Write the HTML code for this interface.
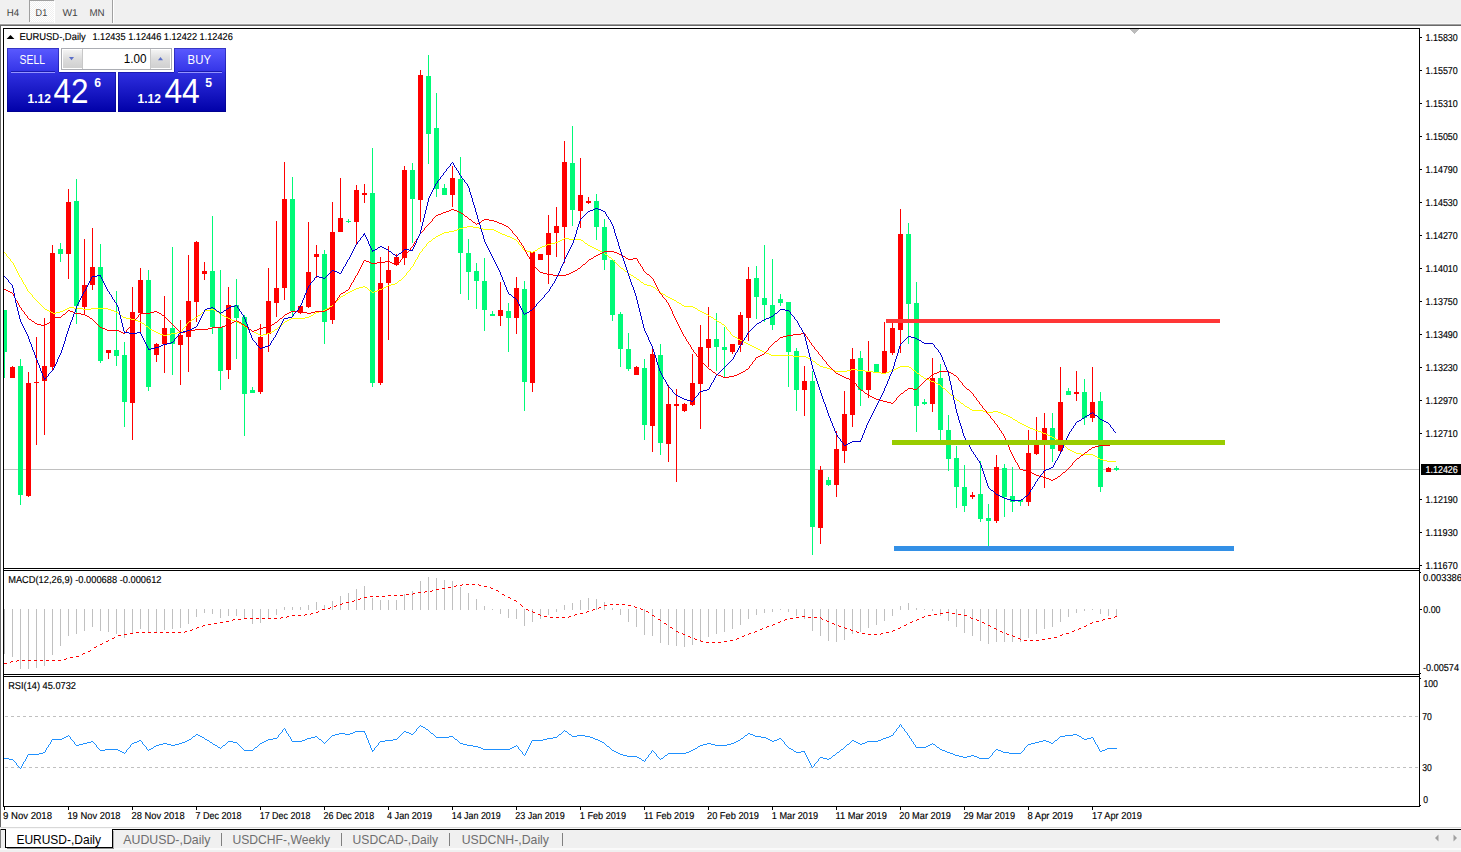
<!DOCTYPE html>
<html><head><meta charset="utf-8"><title>EURUSD-,Daily</title>
<style>
html,body{margin:0;padding:0;background:#fff}
body{width:1461px;height:852px;overflow:hidden;position:relative}
svg{position:absolute;left:0;top:0;display:block}
text{font-family:"Liberation Sans",sans-serif;fill:#000}
.t9{font-size:10px;text-rendering:geometricPrecision;stroke:#000;stroke-width:0.15px}
.ax{font-size:10px;text-rendering:geometricPrecision;stroke:#000;stroke-width:0.15px}
.ce{shape-rendering:crispEdges}
</style></head><body>
<svg width="1461" height="852" viewBox="0 0 1461 852">
<defs><linearGradient id="gb" x1="0" y1="0" x2="0" y2="1"><stop offset="0" stop-color="#5a5aff"/><stop offset="1" stop-color="#3232e6"/></linearGradient><linearGradient id="gp" x1="0" y1="0" x2="0" y2="1"><stop offset="0" stop-color="#3030e0"/><stop offset="1" stop-color="#0000a8"/></linearGradient><linearGradient id="gs" x1="0" y1="0" x2="0" y2="1"><stop offset="0" stop-color="#f4f4f4"/><stop offset="0.5" stop-color="#dcdcdc"/><stop offset="1" stop-color="#d0d0d0"/></linearGradient><pattern id="dots" width="2" height="2" patternUnits="userSpaceOnUse"><rect width="2" height="2" fill="#ffffff"/><rect width="1" height="1" fill="#f0f0f0"/><rect x="1" y="1" width="1" height="1" fill="#f0f0f0"/></pattern></defs>
<g class="ce">
<rect x="0" y="0" width="1461" height="852" fill="#fff"/><rect x="0" y="0" width="1461" height="24" fill="#f0f0f0"/><rect x="30" y="1" width="24" height="21" fill="url(#dots)"/><rect x="29" y="0" width="1" height="22" fill="#a0a0a0"/><rect x="29" y="0" width="25" height="1" fill="#a0a0a0"/><rect x="54" y="1" width="1" height="22" fill="#fff"/><rect x="112" y="0" width="1" height="24" fill="#a0a0a0"/><rect x="113" y="0" width="1" height="24" fill="#fff"/><rect x="0" y="23" width="1461" height="1" fill="#f6f6f6"/><rect x="0" y="24" width="1461" height="1" fill="#a0a0a0"/><rect x="0" y="25" width="1461" height="1" fill="#696969"/><rect x="0" y="25" width="1" height="802" fill="#696969"/><rect x="0" y="827" width="1461" height="1" fill="#d8d8d8"/><rect x="0" y="828" width="1461" height="1" fill="#f8f8f8"/><rect x="0" y="829" width="1461" height="23" fill="#f0f0f0"/><rect x="0" y="829" width="1461" height="1" fill="#000"/><rect x="0" y="848" width="1461" height="2" fill="#fafafa"/><rect x="6" y="829" width="106" height="18" fill="#fff"/><rect x="5" y="829" width="1" height="19" fill="#000"/><rect x="112" y="829" width="1" height="19" fill="#000"/><rect x="5" y="847" width="108" height="1" fill="#000"/><rect x="113" y="831" width="1" height="18" fill="#b0b0b0"/><rect x="7" y="848" width="107" height="1" fill="#909090"/><rect x="0" y="829" width="1" height="19" fill="#808080"/><rect x="221" y="833" width="1" height="13" fill="#808080"/><rect x="341" y="833" width="1" height="13" fill="#808080"/><rect x="449" y="833" width="1" height="13" fill="#808080"/><rect x="562" y="833" width="1" height="13" fill="#808080"/><rect x="3" y="28" width="1417" height="1" fill="#000"/><rect x="3" y="568" width="1417" height="1" fill="#000"/><rect x="3" y="28" width="1" height="541" fill="#000"/><rect x="3" y="570" width="1417" height="1" fill="#000"/><rect x="3" y="674" width="1417" height="1" fill="#000"/><rect x="3" y="570" width="1" height="105" fill="#000"/><rect x="3" y="676" width="1417" height="1" fill="#000"/><rect x="3" y="806" width="1417" height="1" fill="#000"/><rect x="3" y="676" width="1" height="131" fill="#000"/><rect x="1419" y="28" width="1" height="779" fill="#000"/><rect x="1420" y="37" width="2" height="1" fill="#000"/><rect x="1420" y="70" width="2" height="1" fill="#000"/><rect x="1420" y="103" width="2" height="1" fill="#000"/><rect x="1420" y="136" width="2" height="1" fill="#000"/><rect x="1420" y="169" width="2" height="1" fill="#000"/><rect x="1420" y="202" width="2" height="1" fill="#000"/><rect x="1420" y="235" width="2" height="1" fill="#000"/><rect x="1420" y="268" width="2" height="1" fill="#000"/><rect x="1420" y="301" width="2" height="1" fill="#000"/><rect x="1420" y="334" width="2" height="1" fill="#000"/><rect x="1420" y="367" width="2" height="1" fill="#000"/><rect x="1420" y="400" width="2" height="1" fill="#000"/><rect x="1420" y="433" width="2" height="1" fill="#000"/><rect x="1420" y="499" width="2" height="1" fill="#000"/><rect x="1420" y="532" width="2" height="1" fill="#000"/><rect x="1420" y="565" width="2" height="1" fill="#000"/><rect x="1420" y="572" width="1" height="1" fill="#000"/><rect x="1420" y="609" width="2" height="1" fill="#000"/><rect x="1420" y="673" width="1" height="1" fill="#000"/><rect x="1420" y="678" width="1" height="1" fill="#000"/><rect x="1420" y="805" width="1" height="1" fill="#000"/><rect x="4" y="807" width="1" height="3" fill="#000"/><rect x="68" y="807" width="1" height="3" fill="#000"/><rect x="132" y="807" width="1" height="3" fill="#000"/><rect x="196" y="807" width="1" height="3" fill="#000"/><rect x="260" y="807" width="1" height="3" fill="#000"/><rect x="324" y="807" width="1" height="3" fill="#000"/><rect x="388" y="807" width="1" height="3" fill="#000"/><rect x="452" y="807" width="1" height="3" fill="#000"/><rect x="516" y="807" width="1" height="3" fill="#000"/><rect x="580" y="807" width="1" height="3" fill="#000"/><rect x="644" y="807" width="1" height="3" fill="#000"/><rect x="708" y="807" width="1" height="3" fill="#000"/><rect x="772" y="807" width="1" height="3" fill="#000"/><rect x="836" y="807" width="1" height="3" fill="#000"/><rect x="900" y="807" width="1" height="3" fill="#000"/><rect x="964" y="807" width="1" height="3" fill="#000"/><rect x="1028" y="807" width="1" height="3" fill="#000"/><rect x="1092" y="807" width="1" height="3" fill="#000"/><rect x="4" y="469" width="1415" height="1" fill="#c0c0c0"/><polygon points="1130,29 1139.2,29 1134.6,34" fill="#bcbcbc"/><rect x="4" y="609" width="1" height="45" fill="#c0c0c0"/><rect x="12" y="609" width="1" height="48" fill="#c0c0c0"/><rect x="20" y="609" width="1" height="60" fill="#c0c0c0"/><rect x="28" y="609" width="1" height="60" fill="#c0c0c0"/><rect x="36" y="609" width="1" height="59" fill="#c0c0c0"/><rect x="44" y="609" width="1" height="57" fill="#c0c0c0"/><rect x="52" y="609" width="1" height="46" fill="#c0c0c0"/><rect x="60" y="609" width="1" height="37" fill="#c0c0c0"/><rect x="68" y="609" width="1" height="27" fill="#c0c0c0"/><rect x="76" y="609" width="1" height="25" fill="#c0c0c0"/><rect x="84" y="609" width="1" height="22" fill="#c0c0c0"/><rect x="92" y="609" width="1" height="18" fill="#c0c0c0"/><rect x="100" y="609" width="1" height="22" fill="#c0c0c0"/><rect x="108" y="609" width="1" height="23" fill="#c0c0c0"/><rect x="116" y="609" width="1" height="25" fill="#c0c0c0"/><rect x="124" y="609" width="1" height="29" fill="#c0c0c0"/><rect x="132" y="609" width="1" height="24" fill="#c0c0c0"/><rect x="140" y="609" width="1" height="20" fill="#c0c0c0"/><rect x="148" y="609" width="1" height="23" fill="#c0c0c0"/><rect x="156" y="609" width="1" height="23" fill="#c0c0c0"/><rect x="164" y="609" width="1" height="21" fill="#c0c0c0"/><rect x="172" y="609" width="1" height="20" fill="#c0c0c0"/><rect x="180" y="609" width="1" height="19" fill="#c0c0c0"/><rect x="188" y="609" width="1" height="15" fill="#c0c0c0"/><rect x="196" y="609" width="1" height="8" fill="#c0c0c0"/><rect x="204" y="609" width="1" height="4" fill="#c0c0c0"/><rect x="212" y="609" width="1" height="5" fill="#c0c0c0"/><rect x="220" y="609" width="1" height="9" fill="#c0c0c0"/><rect x="228" y="609" width="1" height="7" fill="#c0c0c0"/><rect x="236" y="609" width="1" height="7" fill="#c0c0c0"/><rect x="244" y="609" width="1" height="10" fill="#c0c0c0"/><rect x="252" y="609" width="1" height="15" fill="#c0c0c0"/><rect x="260" y="609" width="1" height="14" fill="#c0c0c0"/><rect x="268" y="609" width="1" height="9" fill="#c0c0c0"/><rect x="276" y="609" width="1" height="6" fill="#c0c0c0"/><rect x="284" y="607" width="1" height="3" fill="#c0c0c0"/><rect x="292" y="607" width="1" height="3" fill="#c0c0c0"/><rect x="300" y="607" width="1" height="3" fill="#c0c0c0"/><rect x="308" y="605" width="1" height="5" fill="#c0c0c0"/><rect x="316" y="602" width="1" height="8" fill="#c0c0c0"/><rect x="324" y="605" width="1" height="5" fill="#c0c0c0"/><rect x="332" y="601" width="1" height="9" fill="#c0c0c0"/><rect x="340" y="596" width="1" height="14" fill="#c0c0c0"/><rect x="348" y="593" width="1" height="17" fill="#c0c0c0"/><rect x="356" y="589" width="1" height="21" fill="#c0c0c0"/><rect x="364" y="586" width="1" height="24" fill="#c0c0c0"/><rect x="372" y="598" width="1" height="12" fill="#c0c0c0"/><rect x="380" y="600" width="1" height="10" fill="#c0c0c0"/><rect x="388" y="600" width="1" height="10" fill="#c0c0c0"/><rect x="396" y="600" width="1" height="10" fill="#c0c0c0"/><rect x="404" y="594" width="1" height="16" fill="#c0c0c0"/><rect x="412" y="591" width="1" height="19" fill="#c0c0c0"/><rect x="420" y="581" width="1" height="29" fill="#c0c0c0"/><rect x="428" y="577" width="1" height="33" fill="#c0c0c0"/><rect x="436" y="578" width="1" height="32" fill="#c0c0c0"/><rect x="444" y="580" width="1" height="30" fill="#c0c0c0"/><rect x="452" y="581" width="1" height="29" fill="#c0c0c0"/><rect x="460" y="587" width="1" height="23" fill="#c0c0c0"/><rect x="468" y="593" width="1" height="17" fill="#c0c0c0"/><rect x="476" y="599" width="1" height="11" fill="#c0c0c0"/><rect x="484" y="606" width="1" height="4" fill="#c0c0c0"/><rect x="492" y="609" width="1" height="1" fill="#c0c0c0"/><rect x="500" y="609" width="1" height="5" fill="#c0c0c0"/><rect x="508" y="609" width="1" height="9" fill="#c0c0c0"/><rect x="516" y="609" width="1" height="10" fill="#c0c0c0"/><rect x="524" y="609" width="1" height="17" fill="#c0c0c0"/><rect x="532" y="609" width="1" height="13" fill="#c0c0c0"/><rect x="540" y="609" width="1" height="10" fill="#c0c0c0"/><rect x="548" y="609" width="1" height="6" fill="#c0c0c0"/><rect x="556" y="609" width="1" height="3" fill="#c0c0c0"/><rect x="564" y="605" width="1" height="5" fill="#c0c0c0"/><rect x="572" y="603" width="1" height="7" fill="#c0c0c0"/><rect x="580" y="600" width="1" height="10" fill="#c0c0c0"/><rect x="588" y="598" width="1" height="12" fill="#c0c0c0"/><rect x="596" y="599" width="1" height="11" fill="#c0c0c0"/><rect x="604" y="602" width="1" height="8" fill="#c0c0c0"/><rect x="612" y="608" width="1" height="2" fill="#c0c0c0"/><rect x="620" y="609" width="1" height="6" fill="#c0c0c0"/><rect x="628" y="609" width="1" height="13" fill="#c0c0c0"/><rect x="636" y="609" width="1" height="18" fill="#c0c0c0"/><rect x="644" y="609" width="1" height="26" fill="#c0c0c0"/><rect x="652" y="609" width="1" height="27" fill="#c0c0c0"/><rect x="660" y="609" width="1" height="34" fill="#c0c0c0"/><rect x="668" y="609" width="1" height="36" fill="#c0c0c0"/><rect x="676" y="609" width="1" height="37" fill="#c0c0c0"/><rect x="684" y="609" width="1" height="38" fill="#c0c0c0"/><rect x="692" y="609" width="1" height="36" fill="#c0c0c0"/><rect x="700" y="609" width="1" height="33" fill="#c0c0c0"/><rect x="708" y="609" width="1" height="28" fill="#c0c0c0"/><rect x="716" y="609" width="1" height="25" fill="#c0c0c0"/><rect x="724" y="609" width="1" height="23" fill="#c0c0c0"/><rect x="732" y="609" width="1" height="20" fill="#c0c0c0"/><rect x="740" y="609" width="1" height="16" fill="#c0c0c0"/><rect x="748" y="609" width="1" height="10" fill="#c0c0c0"/><rect x="756" y="609" width="1" height="6" fill="#c0c0c0"/><rect x="764" y="609" width="1" height="4" fill="#c0c0c0"/><rect x="772" y="609" width="1" height="3" fill="#c0c0c0"/><rect x="780" y="609" width="1" height="1" fill="#c0c0c0"/><rect x="788" y="609" width="1" height="3" fill="#c0c0c0"/><rect x="796" y="609" width="1" height="7" fill="#c0c0c0"/><rect x="804" y="609" width="1" height="10" fill="#c0c0c0"/><rect x="812" y="609" width="1" height="22" fill="#c0c0c0"/><rect x="820" y="609" width="1" height="27" fill="#c0c0c0"/><rect x="828" y="609" width="1" height="32" fill="#c0c0c0"/><rect x="836" y="609" width="1" height="33" fill="#c0c0c0"/><rect x="844" y="609" width="1" height="31" fill="#c0c0c0"/><rect x="852" y="609" width="1" height="25" fill="#c0c0c0"/><rect x="860" y="609" width="1" height="23" fill="#c0c0c0"/><rect x="868" y="609" width="1" height="19" fill="#c0c0c0"/><rect x="876" y="609" width="1" height="16" fill="#c0c0c0"/><rect x="884" y="609" width="1" height="12" fill="#c0c0c0"/><rect x="892" y="609" width="1" height="7" fill="#c0c0c0"/><rect x="900" y="606" width="1" height="4" fill="#c0c0c0"/><rect x="908" y="603" width="1" height="7" fill="#c0c0c0"/><rect x="916" y="608" width="1" height="2" fill="#c0c0c0"/><rect x="924" y="609" width="1" height="1" fill="#c0c0c0"/><rect x="932" y="609" width="1" height="2" fill="#c0c0c0"/><rect x="940" y="609" width="1" height="7" fill="#c0c0c0"/><rect x="948" y="609" width="1" height="12" fill="#c0c0c0"/><rect x="956" y="609" width="1" height="18" fill="#c0c0c0"/><rect x="964" y="609" width="1" height="24" fill="#c0c0c0"/><rect x="972" y="609" width="1" height="27" fill="#c0c0c0"/><rect x="980" y="609" width="1" height="32" fill="#c0c0c0"/><rect x="988" y="609" width="1" height="35" fill="#c0c0c0"/><rect x="996" y="609" width="1" height="33" fill="#c0c0c0"/><rect x="1004" y="609" width="1" height="33" fill="#c0c0c0"/><rect x="1012" y="609" width="1" height="33" fill="#c0c0c0"/><rect x="1020" y="609" width="1" height="33" fill="#c0c0c0"/><rect x="1028" y="609" width="1" height="29" fill="#c0c0c0"/><rect x="1036" y="609" width="1" height="25" fill="#c0c0c0"/><rect x="1044" y="609" width="1" height="20" fill="#c0c0c0"/><rect x="1052" y="609" width="1" height="18" fill="#c0c0c0"/><rect x="1060" y="609" width="1" height="13" fill="#c0c0c0"/><rect x="1068" y="609" width="1" height="8" fill="#c0c0c0"/><rect x="1076" y="609" width="1" height="4" fill="#c0c0c0"/><rect x="1084" y="609" width="1" height="2" fill="#c0c0c0"/><rect x="1092" y="609" width="1" height="1" fill="#c0c0c0"/><rect x="1100" y="609" width="1" height="5" fill="#c0c0c0"/><rect x="1108" y="609" width="1" height="7" fill="#c0c0c0"/><rect x="1116" y="609" width="1" height="8" fill="#c0c0c0"/><line x1="5" y1="716.5" x2="1419" y2="716.5" stroke="#c0c0c0" stroke-width="1" stroke-dasharray="3,3"/><line x1="5" y1="767.5" x2="1419" y2="767.5" stroke="#c0c0c0" stroke-width="1" stroke-dasharray="3,3"/><rect x="4" y="310" width="1" height="68" fill="#00fa78"/><rect x="4" y="310" width="3" height="42" fill="#00fa78"/><rect x="12" y="366" width="1" height="12" fill="#ff0000"/><rect x="10" y="367" width="5" height="11" fill="#ff0000"/><rect x="20" y="359" width="1" height="146" fill="#00fa78"/><rect x="18" y="366" width="5" height="129" fill="#00fa78"/><rect x="28" y="372" width="1" height="125" fill="#ff0000"/><rect x="26" y="383" width="5" height="113" fill="#ff0000"/><rect x="36" y="337" width="1" height="108" fill="#ff0000"/><rect x="34" y="382" width="5" height="1" fill="#ff0000"/><rect x="44" y="318" width="1" height="117" fill="#ff0000"/><rect x="42" y="366" width="5" height="15" fill="#ff0000"/><rect x="52" y="245" width="1" height="126" fill="#ff0000"/><rect x="50" y="253" width="5" height="114" fill="#ff0000"/><rect x="60" y="243" width="1" height="19" fill="#00fa78"/><rect x="58" y="249" width="5" height="5" fill="#00fa78"/><rect x="68" y="189" width="1" height="90" fill="#ff0000"/><rect x="66" y="202" width="5" height="52" fill="#ff0000"/><rect x="76" y="179" width="1" height="145" fill="#00fa78"/><rect x="74" y="201" width="5" height="105" fill="#00fa78"/><rect x="84" y="239" width="1" height="75" fill="#ff0000"/><rect x="82" y="285" width="5" height="22" fill="#ff0000"/><rect x="92" y="228" width="1" height="62" fill="#ff0000"/><rect x="90" y="267" width="5" height="18" fill="#ff0000"/><rect x="100" y="244" width="1" height="119" fill="#00fa78"/><rect x="98" y="267" width="5" height="94" fill="#00fa78"/><rect x="108" y="350" width="1" height="9" fill="#ff0000"/><rect x="106" y="350" width="5" height="3" fill="#ff0000"/><rect x="116" y="291" width="1" height="75" fill="#00fa78"/><rect x="114" y="350" width="5" height="6" fill="#00fa78"/><rect x="124" y="342" width="1" height="85" fill="#00fa78"/><rect x="122" y="355" width="5" height="47" fill="#00fa78"/><rect x="132" y="287" width="1" height="153" fill="#ff0000"/><rect x="130" y="312" width="5" height="91" fill="#ff0000"/><rect x="140" y="268" width="1" height="66" fill="#ff0000"/><rect x="138" y="280" width="5" height="33" fill="#ff0000"/><rect x="148" y="270" width="1" height="121" fill="#00fa78"/><rect x="146" y="280" width="5" height="107" fill="#00fa78"/><rect x="156" y="343" width="1" height="19" fill="#ff0000"/><rect x="154" y="344" width="5" height="11" fill="#ff0000"/><rect x="164" y="296" width="1" height="77" fill="#ff0000"/><rect x="162" y="328" width="5" height="16" fill="#ff0000"/><rect x="172" y="247" width="1" height="128" fill="#00fa78"/><rect x="170" y="328" width="5" height="16" fill="#00fa78"/><rect x="180" y="320" width="1" height="65" fill="#ff0000"/><rect x="178" y="335" width="5" height="10" fill="#ff0000"/><rect x="188" y="255" width="1" height="117" fill="#ff0000"/><rect x="186" y="301" width="5" height="36" fill="#ff0000"/><rect x="196" y="241" width="1" height="81" fill="#ff0000"/><rect x="194" y="242" width="5" height="60" fill="#ff0000"/><rect x="204" y="262" width="1" height="18" fill="#ff0000"/><rect x="202" y="271" width="5" height="3" fill="#ff0000"/><rect x="212" y="216" width="1" height="118" fill="#00fa78"/><rect x="210" y="271" width="5" height="56" fill="#00fa78"/><rect x="220" y="270" width="1" height="120" fill="#00fa78"/><rect x="218" y="327" width="5" height="44" fill="#00fa78"/><rect x="228" y="287" width="1" height="92" fill="#ff0000"/><rect x="226" y="305" width="5" height="65" fill="#ff0000"/><rect x="236" y="279" width="1" height="80" fill="#00fa78"/><rect x="234" y="305" width="5" height="13" fill="#00fa78"/><rect x="244" y="315" width="1" height="121" fill="#00fa78"/><rect x="242" y="317" width="5" height="77" fill="#00fa78"/><rect x="252" y="387" width="1" height="6" fill="#00fa78"/><rect x="250" y="390" width="5" height="3" fill="#00fa78"/><rect x="260" y="324" width="1" height="70" fill="#ff0000"/><rect x="258" y="337" width="5" height="55" fill="#ff0000"/><rect x="268" y="268" width="1" height="84" fill="#ff0000"/><rect x="266" y="301" width="5" height="33" fill="#ff0000"/><rect x="276" y="221" width="1" height="96" fill="#ff0000"/><rect x="274" y="288" width="5" height="15" fill="#ff0000"/><rect x="284" y="162" width="1" height="138" fill="#ff0000"/><rect x="282" y="199" width="5" height="89" fill="#ff0000"/><rect x="292" y="177" width="1" height="139" fill="#00fa78"/><rect x="290" y="199" width="5" height="112" fill="#00fa78"/><rect x="300" y="305" width="1" height="9" fill="#ff0000"/><rect x="298" y="306" width="5" height="7" fill="#ff0000"/><rect x="308" y="222" width="1" height="86" fill="#ff0000"/><rect x="306" y="272" width="5" height="35" fill="#ff0000"/><rect x="316" y="245" width="1" height="33" fill="#ff0000"/><rect x="314" y="254" width="5" height="3" fill="#ff0000"/><rect x="324" y="250" width="1" height="94" fill="#00fa78"/><rect x="322" y="254" width="5" height="68" fill="#00fa78"/><rect x="332" y="202" width="1" height="122" fill="#ff0000"/><rect x="330" y="232" width="5" height="88" fill="#ff0000"/><rect x="340" y="178" width="1" height="54" fill="#ff0000"/><rect x="338" y="218" width="5" height="14" fill="#ff0000"/><rect x="348" y="219" width="1" height="4" fill="#00fa78"/><rect x="346" y="221" width="5" height="1" fill="#00fa78"/><rect x="356" y="185" width="1" height="59" fill="#ff0000"/><rect x="354" y="190" width="5" height="32" fill="#ff0000"/><rect x="364" y="184" width="1" height="19" fill="#ff0000"/><rect x="362" y="193" width="5" height="2" fill="#ff0000"/><rect x="372" y="148" width="1" height="239" fill="#00fa78"/><rect x="370" y="193" width="5" height="190" fill="#00fa78"/><rect x="380" y="257" width="1" height="128" fill="#ff0000"/><rect x="378" y="283" width="5" height="100" fill="#ff0000"/><rect x="388" y="246" width="1" height="94" fill="#ff0000"/><rect x="386" y="270" width="5" height="13" fill="#ff0000"/><rect x="396" y="254" width="1" height="12" fill="#ff0000"/><rect x="394" y="257" width="5" height="8" fill="#ff0000"/><rect x="404" y="166" width="1" height="99" fill="#ff0000"/><rect x="402" y="170" width="5" height="88" fill="#ff0000"/><rect x="412" y="163" width="1" height="80" fill="#00fa78"/><rect x="410" y="170" width="5" height="29" fill="#00fa78"/><rect x="420" y="70" width="1" height="152" fill="#ff0000"/><rect x="418" y="75" width="5" height="125" fill="#ff0000"/><rect x="428" y="55" width="1" height="109" fill="#00fa78"/><rect x="426" y="76" width="5" height="58" fill="#00fa78"/><rect x="436" y="93" width="1" height="104" fill="#00fa78"/><rect x="434" y="128" width="5" height="61" fill="#00fa78"/><rect x="444" y="184" width="1" height="11" fill="#00fa78"/><rect x="442" y="188" width="5" height="7" fill="#00fa78"/><rect x="452" y="166" width="1" height="41" fill="#ff0000"/><rect x="450" y="178" width="5" height="17" fill="#ff0000"/><rect x="460" y="157" width="1" height="137" fill="#00fa78"/><rect x="458" y="179" width="5" height="74" fill="#00fa78"/><rect x="468" y="239" width="1" height="61" fill="#00fa78"/><rect x="466" y="253" width="5" height="19" fill="#00fa78"/><rect x="476" y="263" width="1" height="46" fill="#00fa78"/><rect x="474" y="271" width="5" height="10" fill="#00fa78"/><rect x="484" y="258" width="1" height="73" fill="#00fa78"/><rect x="482" y="281" width="5" height="29" fill="#00fa78"/><rect x="492" y="311" width="1" height="5" fill="#00fa78"/><rect x="490" y="314" width="5" height="2" fill="#00fa78"/><rect x="500" y="282" width="1" height="44" fill="#ff0000"/><rect x="498" y="310" width="5" height="6" fill="#ff0000"/><rect x="508" y="303" width="1" height="49" fill="#00fa78"/><rect x="506" y="311" width="5" height="7" fill="#00fa78"/><rect x="516" y="277" width="1" height="57" fill="#ff0000"/><rect x="514" y="288" width="5" height="30" fill="#ff0000"/><rect x="524" y="281" width="1" height="130" fill="#00fa78"/><rect x="522" y="289" width="5" height="93" fill="#00fa78"/><rect x="532" y="252" width="1" height="140" fill="#ff0000"/><rect x="530" y="252" width="5" height="131" fill="#ff0000"/><rect x="540" y="254" width="1" height="6" fill="#ff0000"/><rect x="538" y="254" width="5" height="6" fill="#ff0000"/><rect x="548" y="215" width="1" height="69" fill="#ff0000"/><rect x="546" y="233" width="5" height="22" fill="#ff0000"/><rect x="556" y="207" width="1" height="50" fill="#ff0000"/><rect x="554" y="226" width="5" height="7" fill="#ff0000"/><rect x="564" y="141" width="1" height="122" fill="#ff0000"/><rect x="562" y="162" width="5" height="65" fill="#ff0000"/><rect x="572" y="126" width="1" height="100" fill="#00fa78"/><rect x="570" y="163" width="5" height="47" fill="#00fa78"/><rect x="580" y="158" width="1" height="70" fill="#ff0000"/><rect x="578" y="195" width="5" height="16" fill="#ff0000"/><rect x="588" y="197" width="1" height="7" fill="#ff0000"/><rect x="586" y="201" width="5" height="2" fill="#ff0000"/><rect x="596" y="194" width="1" height="46" fill="#00fa78"/><rect x="594" y="201" width="5" height="26" fill="#00fa78"/><rect x="604" y="219" width="1" height="51" fill="#00fa78"/><rect x="602" y="227" width="5" height="33" fill="#00fa78"/><rect x="612" y="260" width="1" height="61" fill="#00fa78"/><rect x="610" y="260" width="5" height="55" fill="#00fa78"/><rect x="620" y="312" width="1" height="55" fill="#00fa78"/><rect x="618" y="314" width="5" height="35" fill="#00fa78"/><rect x="628" y="333" width="1" height="38" fill="#00fa78"/><rect x="626" y="349" width="5" height="20" fill="#00fa78"/><rect x="636" y="366" width="1" height="9" fill="#ff0000"/><rect x="634" y="367" width="5" height="8" fill="#ff0000"/><rect x="644" y="359" width="1" height="81" fill="#00fa78"/><rect x="642" y="368" width="5" height="57" fill="#00fa78"/><rect x="652" y="349" width="1" height="103" fill="#ff0000"/><rect x="650" y="354" width="5" height="72" fill="#ff0000"/><rect x="660" y="344" width="1" height="111" fill="#00fa78"/><rect x="658" y="355" width="5" height="88" fill="#00fa78"/><rect x="668" y="385" width="1" height="77" fill="#ff0000"/><rect x="666" y="404" width="5" height="40" fill="#ff0000"/><rect x="676" y="389" width="1" height="93" fill="#ff0000"/><rect x="674" y="404" width="5" height="2" fill="#ff0000"/><rect x="684" y="403" width="1" height="9" fill="#ff0000"/><rect x="682" y="404" width="5" height="7" fill="#ff0000"/><rect x="692" y="354" width="1" height="52" fill="#ff0000"/><rect x="690" y="383" width="5" height="22" fill="#ff0000"/><rect x="700" y="325" width="1" height="104" fill="#ff0000"/><rect x="698" y="347" width="5" height="37" fill="#ff0000"/><rect x="708" y="307" width="1" height="60" fill="#ff0000"/><rect x="706" y="339" width="5" height="9" fill="#ff0000"/><rect x="716" y="313" width="1" height="58" fill="#00fa78"/><rect x="714" y="339" width="5" height="8" fill="#00fa78"/><rect x="724" y="327" width="1" height="50" fill="#00fa78"/><rect x="722" y="347" width="5" height="3" fill="#00fa78"/><rect x="732" y="344" width="1" height="10" fill="#ff0000"/><rect x="730" y="344" width="5" height="8" fill="#ff0000"/><rect x="740" y="312" width="1" height="40" fill="#ff0000"/><rect x="738" y="315" width="5" height="30" fill="#ff0000"/><rect x="748" y="267" width="1" height="74" fill="#ff0000"/><rect x="746" y="279" width="5" height="39" fill="#ff0000"/><rect x="756" y="266" width="1" height="53" fill="#00fa78"/><rect x="754" y="278" width="5" height="19" fill="#00fa78"/><rect x="764" y="245" width="1" height="77" fill="#00fa78"/><rect x="762" y="298" width="5" height="7" fill="#00fa78"/><rect x="772" y="259" width="1" height="71" fill="#00fa78"/><rect x="770" y="305" width="5" height="20" fill="#00fa78"/><rect x="780" y="294" width="1" height="12" fill="#00fa78"/><rect x="778" y="299" width="5" height="4" fill="#00fa78"/><rect x="788" y="302" width="1" height="85" fill="#00fa78"/><rect x="786" y="302" width="5" height="50" fill="#00fa78"/><rect x="796" y="348" width="1" height="63" fill="#00fa78"/><rect x="794" y="351" width="5" height="39" fill="#00fa78"/><rect x="804" y="366" width="1" height="50" fill="#ff0000"/><rect x="802" y="381" width="5" height="9" fill="#ff0000"/><rect x="812" y="371" width="1" height="184" fill="#00fa78"/><rect x="810" y="381" width="5" height="146" fill="#00fa78"/><rect x="820" y="466" width="1" height="78" fill="#ff0000"/><rect x="818" y="470" width="5" height="58" fill="#ff0000"/><rect x="828" y="477" width="1" height="9" fill="#00fa78"/><rect x="826" y="480" width="5" height="5" fill="#00fa78"/><rect x="836" y="431" width="1" height="66" fill="#ff0000"/><rect x="834" y="449" width="5" height="36" fill="#ff0000"/><rect x="844" y="391" width="1" height="72" fill="#ff0000"/><rect x="842" y="414" width="5" height="37" fill="#ff0000"/><rect x="852" y="348" width="1" height="79" fill="#ff0000"/><rect x="850" y="359" width="5" height="56" fill="#ff0000"/><rect x="860" y="351" width="1" height="55" fill="#00fa78"/><rect x="858" y="358" width="5" height="32" fill="#00fa78"/><rect x="868" y="341" width="1" height="57" fill="#ff0000"/><rect x="866" y="372" width="5" height="18" fill="#ff0000"/><rect x="876" y="364" width="1" height="9" fill="#00fa78"/><rect x="874" y="364" width="5" height="9" fill="#00fa78"/><rect x="884" y="322" width="1" height="51" fill="#ff0000"/><rect x="882" y="351" width="5" height="22" fill="#ff0000"/><rect x="892" y="323" width="1" height="32" fill="#ff0000"/><rect x="890" y="328" width="5" height="25" fill="#ff0000"/><rect x="900" y="209" width="1" height="144" fill="#ff0000"/><rect x="898" y="234" width="5" height="96" fill="#ff0000"/><rect x="908" y="223" width="1" height="121" fill="#00fa78"/><rect x="906" y="234" width="5" height="70" fill="#00fa78"/><rect x="916" y="282" width="1" height="150" fill="#00fa78"/><rect x="914" y="303" width="5" height="103" fill="#00fa78"/><rect x="924" y="399" width="1" height="6" fill="#00fa78"/><rect x="922" y="402" width="5" height="2" fill="#00fa78"/><rect x="932" y="358" width="1" height="54" fill="#ff0000"/><rect x="930" y="378" width="5" height="26" fill="#ff0000"/><rect x="940" y="364" width="1" height="76" fill="#00fa78"/><rect x="938" y="378" width="5" height="52" fill="#00fa78"/><rect x="948" y="415" width="1" height="56" fill="#00fa78"/><rect x="946" y="430" width="5" height="29" fill="#00fa78"/><rect x="956" y="446" width="1" height="62" fill="#00fa78"/><rect x="954" y="458" width="5" height="29" fill="#00fa78"/><rect x="964" y="465" width="1" height="47" fill="#00fa78"/><rect x="962" y="487" width="5" height="19" fill="#00fa78"/><rect x="972" y="492" width="1" height="7" fill="#ff0000"/><rect x="970" y="495" width="5" height="2" fill="#ff0000"/><rect x="980" y="461" width="1" height="61" fill="#00fa78"/><rect x="978" y="494" width="5" height="25" fill="#00fa78"/><rect x="988" y="504" width="1" height="42" fill="#00fa78"/><rect x="986" y="518" width="5" height="3" fill="#00fa78"/><rect x="996" y="455" width="1" height="68" fill="#ff0000"/><rect x="994" y="467" width="5" height="54" fill="#ff0000"/><rect x="1004" y="464" width="1" height="53" fill="#00fa78"/><rect x="1002" y="468" width="5" height="29" fill="#00fa78"/><rect x="1012" y="467" width="1" height="45" fill="#00fa78"/><rect x="1010" y="496" width="5" height="6" fill="#00fa78"/><rect x="1020" y="500" width="1" height="6" fill="#00fa78"/><rect x="1018" y="500" width="5" height="2" fill="#00fa78"/><rect x="1028" y="430" width="1" height="76" fill="#ff0000"/><rect x="1026" y="453" width="5" height="49" fill="#ff0000"/><rect x="1036" y="417" width="1" height="38" fill="#ff0000"/><rect x="1034" y="441" width="5" height="13" fill="#ff0000"/><rect x="1044" y="413" width="1" height="75" fill="#ff0000"/><rect x="1042" y="428" width="5" height="13" fill="#ff0000"/><rect x="1052" y="413" width="1" height="49" fill="#00fa78"/><rect x="1050" y="428" width="5" height="21" fill="#00fa78"/><rect x="1060" y="367" width="1" height="85" fill="#ff0000"/><rect x="1058" y="402" width="5" height="49" fill="#ff0000"/><rect x="1068" y="388" width="1" height="7" fill="#00fa78"/><rect x="1066" y="391" width="5" height="4" fill="#00fa78"/><rect x="1076" y="371" width="1" height="30" fill="#ff0000"/><rect x="1074" y="392" width="5" height="2" fill="#ff0000"/><rect x="1084" y="379" width="1" height="46" fill="#00fa78"/><rect x="1082" y="392" width="5" height="26" fill="#00fa78"/><rect x="1092" y="367" width="1" height="55" fill="#ff0000"/><rect x="1090" y="402" width="5" height="16" fill="#ff0000"/><rect x="1100" y="392" width="1" height="100" fill="#00fa78"/><rect x="1098" y="401" width="5" height="86" fill="#00fa78"/><rect x="1108" y="467" width="1" height="5" fill="#ff0000"/><rect x="1106" y="468" width="5" height="4" fill="#ff0000"/><rect x="1116" y="466" width="1" height="5" fill="#00fa78"/><rect x="1114" y="468" width="5" height="2" fill="#00fa78"/>
</g>
<path d="M6.5 254v2M10.5 259v2M13.5 263v2M14.5 265v2M15.5 267v2M16.5 269v2M17.5 271v2M18.5 273v2M19.5 275v2M21.5 278v2M22.5 280v2M23.5 282v2M25.5 285v2M26.5 287v2M27.5 289v2M32.5 295v2M182.5 329v2M186.5 324v2M406.5 273v2M410.5 268v2M413.5 264v2M414.5 262v2M415.5 260v2M417.5 257v2M418.5 255v2M419.5 253v2M422.5 249v2M426.5 244v2M518.5 242v2M522.5 247v2M726.5 327v2M730.5 332v2M467 226.5h6M463 227.5h4M473 227.5h6M459 228.5h4M479 228.5h4M457 229.5h2M483 229.5h11M454 230.5h3M494 230.5h2M449 231.5h5M496 231.5h2M444 232.5h5M498 232.5h2M442 233.5h2M500 233.5h2M440 234.5h2M502 234.5h3M438 235.5h2M505 235.5h2M436 236.5h2M507 236.5h3M435 237.5h1M510 237.5h2M433 238.5h2M512 238.5h2M564 238.5h5M432 239.5h1M514 239.5h2M562 239.5h2M569 239.5h12M431 240.5h1M516 240.5h1M560 240.5h2M581 240.5h2M429 241.5h2M517 241.5h1M558 241.5h2M583 241.5h1M428 242.5h1M555 242.5h3M584 242.5h1M427 243.5h1M551 243.5h4M585 243.5h2M519 244.5h1M547 244.5h4M587 244.5h1M520 245.5h1M545 245.5h2M588 245.5h2M425 246.5h1M521 246.5h1M542 246.5h3M590 246.5h2M424 247.5h1M540 247.5h2M592 247.5h2M423 248.5h1M538 248.5h2M594 248.5h2M523 249.5h1M537 249.5h1M596 249.5h2M524 250.5h3M535 250.5h2M598 250.5h2M421 251.5h1M527 251.5h4M533 251.5h2M600 251.5h2M4 252.5h1M420 252.5h1M531 252.5h2M602 252.5h2M5 253.5h1M604 253.5h1M605 254.5h2M607 255.5h1M7 256.5h1M608 256.5h1M8 257.5h1M609 257.5h2M9 258.5h1M611 258.5h1M416 259.5h1M612 259.5h1M613 260.5h1M11 261.5h1M614 261.5h1M12 262.5h1M615 262.5h1M616 263.5h1M617 264.5h1M618 265.5h1M412 266.5h1M619 266.5h1M411 267.5h1M620 267.5h1M621 268.5h2M623 269.5h1M409 270.5h1M624 270.5h1M408 271.5h1M625 271.5h2M407 272.5h1M627 272.5h1M628 273.5h1M629 274.5h2M405 275.5h1M631 275.5h2M404 276.5h1M633 276.5h1M20 277.5h1M403 277.5h1M634 277.5h2M402 278.5h1M636 278.5h1M401 279.5h1M637 279.5h2M399 280.5h2M639 280.5h1M398 281.5h1M640 281.5h1M397 282.5h1M641 282.5h2M395 283.5h2M643 283.5h1M24 284.5h1M391 284.5h4M644 284.5h3M388 285.5h3M647 285.5h4M363 286.5h2M386 286.5h2M651 286.5h2M359 287.5h4M365 287.5h2M384 287.5h2M653 287.5h2M356 288.5h3M367 288.5h1M382 288.5h2M655 288.5h1M354 289.5h2M368 289.5h1M379 289.5h3M656 289.5h1M352 290.5h2M369 290.5h2M377 290.5h2M657 290.5h2M28 291.5h1M350 291.5h2M371 291.5h1M374 291.5h3M659 291.5h1M29 292.5h1M348 292.5h2M372 292.5h2M660 292.5h1M30 293.5h1M346 293.5h2M661 293.5h2M31 294.5h1M345 294.5h1M663 294.5h2M343 295.5h2M665 295.5h1M341 296.5h2M666 296.5h2M33 297.5h1M340 297.5h1M668 297.5h2M34 298.5h1M339 298.5h1M670 298.5h2M35 299.5h1M338 299.5h1M672 299.5h2M36 300.5h1M337 300.5h1M674 300.5h2M37 301.5h1M336 301.5h1M676 301.5h1M38 302.5h1M335 302.5h1M677 302.5h2M39 303.5h1M334 303.5h1M679 303.5h2M40 304.5h1M333 304.5h1M681 304.5h1M41 305.5h1M332 305.5h1M682 305.5h2M42 306.5h1M330 306.5h2M684 306.5h9M43 307.5h1M69 307.5h5M329 307.5h1M693 307.5h2M44 308.5h1M67 308.5h2M74 308.5h9M91 308.5h17M327 308.5h2M695 308.5h2M45 309.5h2M65 309.5h2M83 309.5h8M108 309.5h3M210 309.5h4M325 309.5h2M697 309.5h1M47 310.5h2M63 310.5h2M111 310.5h3M205 310.5h5M214 310.5h2M323 310.5h2M698 310.5h2M49 311.5h2M60 311.5h3M114 311.5h2M204 311.5h1M216 311.5h2M319 311.5h4M700 311.5h2M51 312.5h2M56 312.5h4M116 312.5h2M202 312.5h2M218 312.5h1M316 312.5h3M702 312.5h2M53 313.5h3M118 313.5h1M201 313.5h1M219 313.5h2M314 313.5h2M704 313.5h2M119 314.5h1M200 314.5h1M221 314.5h1M313 314.5h1M706 314.5h2M120 315.5h2M198 315.5h2M222 315.5h2M311 315.5h2M708 315.5h1M122 316.5h1M197 316.5h1M224 316.5h2M309 316.5h2M709 316.5h2M123 317.5h3M195 317.5h2M226 317.5h2M305 317.5h4M711 317.5h2M126 318.5h5M194 318.5h1M228 318.5h2M291 318.5h14M713 318.5h1M131 319.5h4M192 319.5h2M230 319.5h2M289 319.5h2M714 319.5h2M135 320.5h3M191 320.5h1M232 320.5h3M287 320.5h2M716 320.5h1M138 321.5h2M189 321.5h2M235 321.5h2M285 321.5h2M717 321.5h2M140 322.5h2M188 322.5h1M237 322.5h2M284 322.5h1M719 322.5h2M142 323.5h2M187 323.5h1M239 323.5h2M283 323.5h1M721 323.5h1M144 324.5h1M241 324.5h2M282 324.5h1M722 324.5h2M145 325.5h1M243 325.5h1M280 325.5h2M724 325.5h1M146 326.5h2M185 326.5h1M244 326.5h2M279 326.5h1M725 326.5h1M148 327.5h1M184 327.5h1M246 327.5h1M278 327.5h1M149 328.5h1M183 328.5h1M247 328.5h2M277 328.5h1M150 329.5h2M249 329.5h2M275 329.5h2M727 329.5h1M152 330.5h2M251 330.5h1M274 330.5h1M728 330.5h1M154 331.5h2M181 331.5h1M252 331.5h2M272 331.5h2M729 331.5h1M156 332.5h2M177 332.5h4M254 332.5h2M270 332.5h2M158 333.5h2M171 333.5h6M256 333.5h2M267 333.5h3M160 334.5h3M167 334.5h4M258 334.5h2M263 334.5h4M731 334.5h1M163 335.5h4M260 335.5h3M732 335.5h1M733 336.5h2M735 337.5h2M737 338.5h1M738 339.5h2M740 340.5h2M742 341.5h2M744 342.5h2M746 343.5h2M748 344.5h2M750 345.5h2M752 346.5h2M754 347.5h2M756 348.5h2M758 349.5h2M760 350.5h2M762 351.5h2M764 352.5h2M766 353.5h3M769 354.5h2M771 355.5h22M793 356.5h13M806 357.5h2M808 358.5h2M810 359.5h2M812 360.5h1M813 361.5h2M815 362.5h1M816 363.5h1M817 364.5h2M819 365.5h1M820 366.5h3M900 366.5h9M823 367.5h4M898 367.5h2M909 367.5h2M827 368.5h3M896 368.5h2M911 368.5h1M830 369.5h3M851 369.5h6M894 369.5h2M912 369.5h1M833 370.5h2M847 370.5h4M857 370.5h8M891 370.5h3M913 370.5h2M835 371.5h12M865 371.5h8M889 371.5h2M915 371.5h1M873 372.5h8M886 372.5h3M916 372.5h1M881 373.5h5M917 373.5h2M919 374.5h1M920 375.5h1M921 376.5h2M923 377.5h1M924 378.5h2M926 379.5h3M929 380.5h2M931 381.5h3M934 382.5h2M936 383.5h2M938 384.5h2M940 385.5h1M941 386.5h1M942 387.5h1M943 388.5h2M945 389.5h1M946 390.5h1M947 391.5h1M948 392.5h1M949 393.5h1M950 394.5h1M951 395.5h2M953 396.5h1M954 397.5h1M955 398.5h1M956 399.5h1M957 400.5h2M959 401.5h1M960 402.5h1M961 403.5h2M963 404.5h1M964 405.5h1M965 406.5h2M967 407.5h2M969 408.5h1M970 409.5h2M972 410.5h11M983 411.5h4M993 411.5h5M987 412.5h6M998 412.5h3M1001 413.5h2M1003 414.5h3M1006 415.5h2M1008 416.5h2M1010 417.5h2M1012 418.5h1M1013 419.5h2M1015 420.5h2M1017 421.5h1M1018 422.5h2M1020 423.5h2M1022 424.5h2M1024 425.5h2M1026 426.5h2M1028 427.5h2M1030 428.5h3M1033 429.5h2M1035 430.5h3M1038 431.5h3M1041 432.5h2M1043 433.5h3M1046 434.5h2M1048 435.5h2M1050 436.5h2M1052 437.5h2M1054 438.5h2M1056 439.5h2M1058 440.5h2M1060 441.5h1M1061 442.5h1M1062 443.5h1M1063 444.5h1M1064 445.5h1M1065 446.5h1M1066 447.5h1M1067 448.5h1M1068 449.5h2M1070 450.5h2M1072 451.5h2M1074 452.5h2M1076 453.5h5M1081 454.5h12M1093 455.5h2M1095 456.5h2M1097 457.5h1M1098 458.5h2M1100 459.5h3M1103 460.5h4M1107 461.5h9" fill="none" stroke="#ffff00" stroke-width="1" class="ce"/>
<path d="M13.5 294v2M14.5 296v2M15.5 298v2M17.5 301v2M18.5 303v2M19.5 305v2M21.5 308v2M24.5 312v2M27.5 316v2M126.5 330v2M130.5 325v2M134.5 320v2M138.5 315v2M333.5 304v2M335.5 301v2M337.5 298v2M339.5 295v2M349.5 287v2M350.5 285v2M351.5 283v2M353.5 280v2M354.5 278v2M355.5 276v2M357.5 273v2M358.5 271v2M359.5 269v2M360.5 267v2M361.5 265v2M362.5 263v2M363.5 261v2M400.5 260v2M406.5 253v2M410.5 248v2M413.5 244v2M414.5 242v2M416.5 239v2M418.5 236v2M419.5 234v2M424.5 228v2M432.5 219v2M512.5 231v2M517.5 237v2M519.5 240v2M521.5 243v2M523.5 246v2M524.5 248v2M525.5 250v2M526.5 252v2M527.5 254v2M529.5 257v2M531.5 260v2M532.5 262v2M534.5 265v2M637.5 259v2M638.5 261v2M640.5 264v2M642.5 267v2M643.5 269v2M653.5 279v2M654.5 281v2M655.5 283v2M656.5 285v2M657.5 287v2M658.5 289v2M659.5 291v2M662.5 295v2M666.5 300v2M668.5 303v2M669.5 305v2M670.5 307v2M671.5 309v2M672.5 311v3M673.5 314v2M674.5 316v2M675.5 318v2M676.5 320v2M677.5 322v2M678.5 324v2M679.5 326v2M680.5 328v2M681.5 330v2M682.5 332v2M683.5 334v2M685.5 337v2M686.5 339v2M688.5 342v2M690.5 345v2M691.5 347v2M693.5 350v2M696.5 354v2M699.5 358v2M749.5 366v2M752.5 362v2M755.5 358v2M768.5 348v2M805.5 334v2M807.5 337v2M809.5 340v2M811.5 343v2M814.5 347v2M818.5 352v2M822.5 357v2M826.5 362v2M856.5 384v2M896.5 398v2M958.5 378v2M962.5 383v2M973.5 394v2M976.5 398v2M979.5 402v2M982.5 406v2M986.5 411v2M990.5 416v2M994.5 421v2M997.5 425v2M999.5 428v2M1001.5 431v2M1003.5 434v2M1004.5 436v2M1005.5 438v2M1006.5 440v2M1007.5 442v3M1008.5 445v2M1009.5 447v3M1010.5 450v2M1011.5 452v2M1012.5 454v2M1013.5 456v2M1014.5 458v2M1015.5 460v2M1017.5 463v2M1018.5 465v2M1019.5 467v2M1072.5 463v2M451 209.5h3M449 210.5h2M454 210.5h3M446 211.5h3M457 211.5h2M443 212.5h3M459 212.5h2M441 213.5h2M461 213.5h2M438 214.5h3M463 214.5h1M436 215.5h2M464 215.5h1M435 216.5h1M465 216.5h2M434 217.5h1M467 217.5h1M433 218.5h1M468 218.5h1M469 219.5h2M484 219.5h5M471 220.5h1M482 220.5h2M489 220.5h5M431 221.5h1M472 221.5h1M481 221.5h1M494 221.5h3M430 222.5h1M473 222.5h2M479 222.5h2M497 222.5h2M429 223.5h1M475 223.5h1M477 223.5h2M499 223.5h3M428 224.5h1M476 224.5h1M502 224.5h2M427 225.5h1M504 225.5h2M426 226.5h1M506 226.5h2M425 227.5h1M508 227.5h1M509 228.5h1M510 229.5h1M423 230.5h1M511 230.5h1M422 231.5h1M421 232.5h1M420 233.5h1M513 233.5h1M514 234.5h1M515 235.5h1M516 236.5h1M417 238.5h1M518 239.5h1M415 241.5h1M520 242.5h1M522 245.5h1M412 246.5h1M411 247.5h1M409 250.5h1M408 251.5h1M604 251.5h10M407 252.5h1M602 252.5h2M614 252.5h3M600 253.5h2M617 253.5h2M598 254.5h2M619 254.5h2M405 255.5h1M596 255.5h2M621 255.5h2M404 256.5h1M528 256.5h1M594 256.5h2M623 256.5h2M403 257.5h1M593 257.5h1M625 257.5h1M402 258.5h1M591 258.5h2M626 258.5h2M633 258.5h4M401 259.5h1M530 259.5h1M589 259.5h2M628 259.5h5M364 260.5h2M588 260.5h1M366 261.5h3M385 261.5h5M587 261.5h1M369 262.5h2M377 262.5h8M390 262.5h2M399 262.5h1M586 262.5h1M371 263.5h6M392 263.5h2M398 263.5h1M585 263.5h1M639 263.5h1M394 264.5h2M397 264.5h1M533 264.5h1M583 264.5h2M396 265.5h1M582 265.5h1M581 266.5h1M641 266.5h1M535 267.5h1M580 267.5h1M536 268.5h1M578 268.5h2M537 269.5h1M577 269.5h1M538 270.5h1M575 270.5h2M539 271.5h1M573 271.5h2M644 271.5h1M540 272.5h3M571 272.5h2M645 272.5h1M543 273.5h4M569 273.5h2M646 273.5h1M547 274.5h6M566 274.5h3M647 274.5h2M356 275.5h1M553 275.5h13M649 275.5h1M650 276.5h1M651 277.5h1M652 278.5h1M352 282.5h1M4 289.5h2M348 289.5h1M6 290.5h2M346 290.5h2M8 291.5h2M345 291.5h1M10 292.5h2M343 292.5h2M12 293.5h1M341 293.5h2M660 293.5h1M340 294.5h1M661 294.5h1M338 297.5h1M663 297.5h1M664 298.5h1M665 299.5h1M16 300.5h1M336 300.5h1M667 302.5h1M334 303.5h1M332 306.5h1M20 307.5h1M330 307.5h2M329 308.5h1M327 309.5h2M22 310.5h1M68 310.5h2M325 310.5h2M23 311.5h1M67 311.5h1M70 311.5h3M154 311.5h3M291 311.5h12M315 311.5h10M66 312.5h1M73 312.5h2M150 312.5h4M157 312.5h2M289 312.5h2M303 312.5h4M311 312.5h4M65 313.5h1M75 313.5h6M140 313.5h10M159 313.5h2M287 313.5h2M307 313.5h4M25 314.5h1M63 314.5h2M81 314.5h4M139 314.5h1M161 314.5h1M285 314.5h2M26 315.5h1M62 315.5h1M85 315.5h2M162 315.5h2M284 315.5h1M61 316.5h1M87 316.5h2M164 316.5h1M283 316.5h1M54 317.5h7M89 317.5h1M137 317.5h1M165 317.5h1M282 317.5h1M28 318.5h1M53 318.5h1M90 318.5h2M136 318.5h1M166 318.5h1M280 318.5h2M29 319.5h2M52 319.5h1M92 319.5h1M135 319.5h1M167 319.5h1M279 319.5h1M31 320.5h1M51 320.5h1M93 320.5h1M168 320.5h1M236 320.5h1M278 320.5h1M32 321.5h2M50 321.5h1M94 321.5h1M169 321.5h1M234 321.5h2M237 321.5h2M277 321.5h1M34 322.5h1M49 322.5h1M95 322.5h1M133 322.5h1M170 322.5h1M232 322.5h2M239 322.5h2M275 322.5h2M35 323.5h2M47 323.5h2M96 323.5h1M132 323.5h1M171 323.5h1M230 323.5h2M241 323.5h1M274 323.5h1M37 324.5h4M45 324.5h2M97 324.5h1M131 324.5h1M172 324.5h1M228 324.5h2M242 324.5h2M272 324.5h2M41 325.5h4M98 325.5h1M173 325.5h1M225 325.5h3M244 325.5h1M270 325.5h2M99 326.5h1M174 326.5h1M222 326.5h3M245 326.5h2M267 326.5h3M100 327.5h2M129 327.5h1M175 327.5h1M212 327.5h10M247 327.5h1M263 327.5h4M102 328.5h3M128 328.5h1M176 328.5h1M208 328.5h4M248 328.5h1M259 328.5h4M105 329.5h2M127 329.5h1M177 329.5h1M195 329.5h13M249 329.5h2M257 329.5h2M107 330.5h12M178 330.5h1M191 330.5h4M251 330.5h1M254 330.5h3M119 331.5h2M179 331.5h1M185 331.5h6M252 331.5h2M121 332.5h2M125 332.5h1M180 332.5h5M123 333.5h2M801 333.5h4M793 334.5h8M787 335.5h6M684 336.5h1M783 336.5h4M806 336.5h1M780 337.5h3M779 338.5h1M778 339.5h1M808 339.5h1M777 340.5h1M687 341.5h1M775 341.5h2M774 342.5h1M810 342.5h1M773 343.5h1M689 344.5h1M772 344.5h1M771 345.5h1M812 345.5h1M770 346.5h1M813 346.5h1M769 347.5h1M692 349.5h1M815 349.5h1M767 350.5h1M816 350.5h1M766 351.5h1M817 351.5h1M694 352.5h1M765 352.5h1M695 353.5h1M764 353.5h1M762 354.5h2M819 354.5h1M760 355.5h2M820 355.5h1M697 356.5h1M758 356.5h2M821 356.5h1M698 357.5h1M756 357.5h2M823 359.5h1M700 360.5h1M754 360.5h1M824 360.5h1M701 361.5h1M753 361.5h1M825 361.5h1M702 362.5h1M703 363.5h1M704 364.5h1M751 364.5h1M827 364.5h1M705 365.5h1M750 365.5h1M828 365.5h1M706 366.5h1M829 366.5h1M707 367.5h1M830 367.5h1M708 368.5h1M748 368.5h1M831 368.5h1M709 369.5h2M746 369.5h2M832 369.5h1M711 370.5h1M745 370.5h1M833 370.5h1M712 371.5h1M743 371.5h2M834 371.5h1M939 371.5h10M713 372.5h2M741 372.5h2M835 372.5h1M937 372.5h2M949 372.5h2M715 373.5h1M739 373.5h2M836 373.5h2M934 373.5h3M951 373.5h2M716 374.5h2M737 374.5h2M838 374.5h2M932 374.5h2M953 374.5h1M718 375.5h3M734 375.5h3M840 375.5h2M931 375.5h1M954 375.5h2M721 376.5h2M729 376.5h5M842 376.5h2M930 376.5h1M956 376.5h1M723 377.5h6M844 377.5h2M929 377.5h1M957 377.5h1M846 378.5h3M927 378.5h2M849 379.5h2M926 379.5h1M851 380.5h2M925 380.5h1M959 380.5h1M853 381.5h1M924 381.5h1M960 381.5h1M854 382.5h1M923 382.5h1M961 382.5h1M855 383.5h1M922 383.5h1M921 384.5h1M920 385.5h1M963 385.5h1M857 386.5h1M919 386.5h1M964 386.5h1M858 387.5h1M918 387.5h1M965 387.5h1M859 388.5h1M908 388.5h5M917 388.5h1M966 388.5h1M860 389.5h1M907 389.5h1M913 389.5h4M967 389.5h2M861 390.5h2M905 390.5h2M969 390.5h1M863 391.5h1M904 391.5h1M970 391.5h1M864 392.5h1M903 392.5h1M971 392.5h1M865 393.5h2M901 393.5h2M972 393.5h1M867 394.5h1M900 394.5h1M868 395.5h2M899 395.5h1M870 396.5h2M898 396.5h1M974 396.5h1M872 397.5h2M897 397.5h1M975 397.5h1M874 398.5h2M876 399.5h3M879 400.5h4M895 400.5h1M977 400.5h1M883 401.5h4M894 401.5h1M978 401.5h1M887 402.5h4M893 402.5h1M891 403.5h2M980 404.5h1M981 405.5h1M983 408.5h1M984 409.5h1M985 410.5h1M987 413.5h1M988 414.5h1M989 415.5h1M991 418.5h1M992 419.5h1M993 420.5h1M995 423.5h1M996 424.5h1M998 427.5h1M1000 430.5h1M1002 433.5h1M1099 445.5h11M1095 446.5h4M1092 447.5h3M1091 448.5h1M1089 449.5h2M1088 450.5h1M1087 451.5h1M1085 452.5h2M1084 453.5h1M1083 454.5h1M1081 455.5h2M1080 456.5h1M1079 457.5h1M1077 458.5h2M1076 459.5h1M1075 460.5h1M1074 461.5h1M1016 462.5h1M1073 462.5h1M1071 465.5h1M1070 466.5h1M1069 467.5h1M1068 468.5h1M1020 469.5h3M1067 469.5h1M1023 470.5h4M1066 470.5h1M1027 471.5h3M1065 471.5h1M1030 472.5h2M1063 472.5h2M1032 473.5h2M1062 473.5h1M1034 474.5h2M1061 474.5h1M1036 475.5h3M1060 475.5h1M1039 476.5h4M1058 476.5h2M1043 477.5h3M1057 477.5h1M1046 478.5h3M1055 478.5h2M1049 479.5h2M1053 479.5h2M1051 480.5h2" fill="none" stroke="#ff0000" stroke-width="1" class="ce"/>
<path d="M8.5 280v2M12.5 285v3M13.5 288v5M14.5 293v5M15.5 298v5M16.5 303v4M17.5 307v4M18.5 311v4M19.5 315v4M20.5 319v3M21.5 322v2M22.5 324v2M23.5 326v2M24.5 328v2M25.5 330v2M26.5 332v2M27.5 334v2M28.5 336v3M29.5 339v3M30.5 342v2M31.5 344v3M32.5 347v3M33.5 350v2M34.5 352v3M35.5 355v3M36.5 358v2M37.5 360v3M38.5 363v2M39.5 365v3M40.5 368v3M41.5 371v2M42.5 373v3M43.5 376v2M44.5 378v2M48.5 374v2M53.5 368v2M54.5 366v2M55.5 364v2M56.5 362v2M57.5 359v3M58.5 357v2M59.5 355v2M60.5 353v2M61.5 350v3M62.5 347v3M63.5 344v3M64.5 341v3M65.5 337v4M66.5 334v3M67.5 331v3M68.5 328v3M69.5 325v3M70.5 322v3M71.5 320v2M72.5 317v3M73.5 314v3M74.5 312v2M75.5 309v3M76.5 306v3M77.5 304v2M78.5 302v2M79.5 300v2M80.5 298v2M81.5 296v2M82.5 294v2M83.5 292v2M85.5 289v2M86.5 287v2M87.5 285v2M88.5 283v2M89.5 281v2M90.5 279v2M91.5 277v2M100.5 275v2M101.5 277v2M102.5 279v2M103.5 281v2M104.5 283v2M105.5 285v2M106.5 287v2M107.5 289v2M109.5 292v2M111.5 295v2M112.5 297v2M114.5 300v2M116.5 303v2M117.5 305v2M118.5 307v4M119.5 311v4M120.5 315v4M121.5 319v4M122.5 323v4M123.5 327v4M124.5 331v2M140.5 332v2M141.5 334v2M142.5 336v2M143.5 338v2M144.5 340v2M145.5 342v2M146.5 344v2M147.5 346v2M148.5 348v2M174.5 339v2M178.5 334v2M197.5 324v2M198.5 322v2M199.5 320v2M200.5 318v2M201.5 316v2M202.5 314v2M203.5 312v2M204.5 310v2M237.5 306v2M239.5 309v2M241.5 312v2M243.5 315v2M244.5 317v2M245.5 319v3M246.5 322v2M247.5 324v3M248.5 327v3M249.5 330v3M250.5 333v2M251.5 335v3M252.5 338v2M256.5 343v2M270.5 343v2M271.5 341v2M273.5 338v2M275.5 335v2M276.5 333v2M277.5 331v2M278.5 329v2M279.5 327v2M280.5 325v2M281.5 323v2M282.5 321v2M283.5 319v2M293.5 314v2M298.5 308v2M300.5 305v2M301.5 303v2M302.5 300v3M303.5 298v2M304.5 295v3M305.5 293v2M306.5 290v3M307.5 288v2M308.5 286v2M310.5 283v2M314.5 278v2M341.5 271v2M342.5 269v2M343.5 267v2M345.5 264v2M346.5 262v2M347.5 260v2M349.5 257v2M350.5 255v2M351.5 253v2M352.5 251v2M353.5 249v2M354.5 247v2M355.5 245v2M357.5 242v2M360.5 238v2M363.5 234v2M364.5 233v2M365.5 235v2M366.5 237v2M367.5 239v2M368.5 241v3M369.5 244v2M370.5 246v2M371.5 248v2M372.5 250v2M412.5 249v2M413.5 247v2M414.5 245v2M415.5 243v2M416.5 240v3M417.5 238v2M418.5 236v2M419.5 234v2M420.5 230v4M421.5 226v4M422.5 222v4M423.5 218v4M424.5 214v4M425.5 210v4M426.5 206v4M427.5 202v4M428.5 198v4M429.5 196v2M430.5 194v2M431.5 192v2M432.5 190v2M433.5 188v2M434.5 186v2M435.5 184v2M437.5 181v2M440.5 177v2M443.5 173v2M446.5 169v2M450.5 164v2M453.5 163v2M454.5 165v2M456.5 168v2M458.5 171v2M459.5 173v2M461.5 176v2M464.5 180v2M467.5 184v2M468.5 186v2M469.5 188v4M470.5 192v3M471.5 195v3M472.5 198v4M473.5 202v3M474.5 205v3M475.5 208v4M476.5 212v3M477.5 215v4M478.5 219v3M479.5 222v3M480.5 225v4M481.5 229v3M482.5 232v3M483.5 235v4M484.5 239v3M485.5 242v2M486.5 244v2M487.5 246v2M488.5 248v2M489.5 250v2M490.5 252v2M491.5 254v2M492.5 256v2M493.5 258v2M494.5 260v2M495.5 262v2M496.5 264v2M497.5 266v2M498.5 268v2M499.5 270v2M500.5 272v3M501.5 275v2M502.5 277v3M503.5 280v2M504.5 282v3M505.5 285v2M506.5 287v3M507.5 290v2M508.5 292v2M517.5 300v2M518.5 302v2M519.5 304v2M520.5 306v2M521.5 308v2M522.5 310v2M523.5 312v2M536.5 304v2M544.5 295v2M549.5 289v2M550.5 287v2M552.5 284v2M554.5 281v2M555.5 279v2M556.5 277v2M557.5 275v2M558.5 273v2M559.5 271v2M560.5 268v3M561.5 266v2M562.5 264v2M563.5 262v2M564.5 259v3M565.5 257v2M566.5 255v2M567.5 253v2M568.5 251v2M569.5 249v2M570.5 247v2M571.5 245v2M572.5 243v2M573.5 240v3M574.5 237v3M575.5 234v3M576.5 230v4M577.5 227v3M578.5 224v3M579.5 221v3M580.5 219v2M605.5 212v2M606.5 214v2M608.5 217v2M610.5 220v2M611.5 222v2M612.5 224v2M613.5 226v3M614.5 229v4M615.5 233v3M616.5 236v3M617.5 239v3M618.5 242v4M619.5 246v3M620.5 249v3M621.5 252v3M622.5 255v3M623.5 258v3M624.5 261v3M625.5 264v3M626.5 267v3M627.5 270v3M628.5 273v3M629.5 276v3M630.5 279v3M631.5 282v3M632.5 285v2M633.5 287v3M634.5 290v3M635.5 293v3M636.5 296v4M637.5 300v4M638.5 304v4M639.5 308v4M640.5 312v4M641.5 316v4M642.5 320v4M643.5 324v4M644.5 328v3M645.5 331v2M646.5 333v2M647.5 335v2M648.5 337v3M649.5 340v2M650.5 342v2M651.5 344v2M652.5 346v3M653.5 349v3M654.5 352v3M655.5 355v3M656.5 358v4M657.5 362v3M658.5 365v3M659.5 368v3M660.5 371v2M661.5 373v2M662.5 375v2M663.5 377v2M665.5 380v2M666.5 382v2M667.5 384v2M672.5 390v2M694.5 398v2M698.5 393v2M709.5 387v2M710.5 385v2M711.5 383v2M713.5 380v2M714.5 378v2M715.5 376v2M733.5 357v2M734.5 355v2M735.5 353v2M737.5 350v2M738.5 348v2M739.5 346v2M741.5 343v2M742.5 341v2M744.5 338v2M746.5 335v2M747.5 333v2M790.5 312v2M794.5 317v2M797.5 321v2M798.5 323v2M799.5 325v2M801.5 328v2M802.5 330v2M803.5 332v2M804.5 334v3M805.5 337v4M806.5 341v4M807.5 345v4M808.5 349v4M809.5 353v4M810.5 357v4M811.5 361v4M812.5 365v4M813.5 369v3M814.5 372v3M815.5 375v3M816.5 378v3M817.5 381v3M818.5 384v3M819.5 387v3M820.5 390v3M821.5 393v3M822.5 396v3M823.5 399v3M824.5 402v2M825.5 404v3M826.5 407v3M827.5 410v3M828.5 413v3M829.5 416v2M830.5 418v3M831.5 421v2M832.5 423v3M833.5 426v2M834.5 428v3M835.5 431v2M836.5 433v2M837.5 435v2M840.5 439v2M843.5 443v2M860.5 440v2M861.5 438v2M862.5 435v3M863.5 433v2M864.5 430v3M865.5 428v2M866.5 425v3M867.5 423v2M868.5 421v2M869.5 419v2M870.5 417v2M871.5 415v2M872.5 413v2M873.5 411v2M874.5 409v2M875.5 407v2M876.5 405v2M877.5 403v2M878.5 401v2M879.5 399v2M880.5 397v2M881.5 395v2M882.5 393v2M883.5 391v2M884.5 388v3M885.5 386v2M886.5 384v2M887.5 381v3M888.5 379v2M889.5 376v3M890.5 374v2M891.5 372v2M892.5 369v3M893.5 366v3M894.5 362v4M895.5 359v3M896.5 356v3M897.5 353v3M898.5 349v4M899.5 346v3M900.5 344v2M934.5 345v2M938.5 350v2M940.5 353v2M941.5 355v2M942.5 357v3M943.5 360v2M944.5 362v3M945.5 365v2M946.5 367v3M947.5 370v2M948.5 372v4M949.5 376v5M950.5 381v4M951.5 385v5M952.5 390v5M953.5 395v5M954.5 400v4M955.5 404v5M956.5 409v4M957.5 413v3M958.5 416v4M959.5 420v3M960.5 423v3M961.5 426v3M962.5 429v4M963.5 433v3M964.5 436v2M965.5 438v2M966.5 440v2M967.5 442v2M969.5 445v2M970.5 447v2M971.5 449v2M973.5 452v2M975.5 455v2M977.5 458v2M979.5 461v2M980.5 463v2M981.5 465v3M982.5 468v3M983.5 471v3M984.5 474v3M985.5 477v3M986.5 480v3M987.5 483v3M988.5 486v2M1029.5 492v2M1030.5 490v2M1032.5 487v2M1034.5 484v2M1035.5 482v2M1037.5 479v2M1040.5 475v2M1043.5 471v2M1053.5 465v2M1054.5 463v2M1055.5 461v2M1057.5 458v2M1058.5 456v2M1059.5 454v2M1060.5 452v2M1061.5 450v2M1062.5 448v2M1063.5 445v3M1064.5 443v2M1065.5 440v3M1066.5 438v2M1067.5 436v2M1068.5 434v2M1069.5 432v2M1071.5 429v2M1073.5 426v2M1075.5 423v2M1110.5 425v2M1113.5 429v2M452 162.5h1M451 163.5h1M449 166.5h1M448 167.5h1M455 167.5h1M447 168.5h1M457 170.5h1M445 171.5h1M444 172.5h1M442 175.5h1M460 175.5h1M441 176.5h1M462 178.5h1M439 179.5h1M463 179.5h1M438 180.5h1M465 182.5h1M436 183.5h1M466 183.5h1M595 208.5h3M593 209.5h2M598 209.5h3M590 210.5h3M601 210.5h2M588 211.5h2M603 211.5h2M587 212.5h1M586 213.5h1M585 214.5h1M584 215.5h1M583 216.5h1M607 216.5h1M582 217.5h1M581 218.5h1M609 219.5h1M362 236.5h1M361 237.5h1M359 240.5h1M358 241.5h1M356 244.5h1M380 246.5h2M378 247.5h2M382 247.5h2M377 248.5h1M384 248.5h2M375 249.5h2M386 249.5h2M404 249.5h5M373 250.5h2M388 250.5h1M403 250.5h1M409 250.5h3M389 251.5h2M402 251.5h1M391 252.5h1M401 252.5h1M392 253.5h1M399 253.5h2M393 254.5h2M398 254.5h1M395 255.5h1M397 255.5h1M396 256.5h1M348 259.5h1M344 266.5h1M332 270.5h2M331 271.5h1M334 271.5h3M330 272.5h1M337 272.5h2M329 273.5h1M339 273.5h2M328 274.5h1M97 275.5h3M327 275.5h1M4 276.5h1M92 276.5h5M316 276.5h3M326 276.5h1M5 277.5h1M315 277.5h1M319 277.5h4M325 277.5h1M6 278.5h1M323 278.5h2M7 279.5h1M313 280.5h1M312 281.5h1M9 282.5h1M311 282.5h1M10 283.5h1M553 283.5h1M11 284.5h1M309 285.5h1M551 286.5h1M84 291.5h1M108 291.5h1M548 291.5h1M547 292.5h1M546 293.5h1M110 294.5h1M509 294.5h2M545 294.5h1M511 295.5h1M512 296.5h1M513 297.5h2M543 297.5h1M515 298.5h1M542 298.5h1M113 299.5h1M516 299.5h1M541 299.5h1M540 300.5h1M539 301.5h1M115 302.5h1M538 302.5h1M537 303.5h1M235 305.5h2M231 306.5h4M535 306.5h1M211 307.5h2M229 307.5h2M299 307.5h1M534 307.5h1M207 308.5h4M213 308.5h2M227 308.5h2M238 308.5h1M533 308.5h1M205 309.5h2M215 309.5h1M226 309.5h1M532 309.5h1M780 309.5h5M216 310.5h1M224 310.5h2M297 310.5h1M530 310.5h2M779 310.5h1M785 310.5h4M217 311.5h2M223 311.5h1M240 311.5h1M296 311.5h1M529 311.5h1M778 311.5h1M789 311.5h1M219 312.5h1M221 312.5h2M295 312.5h1M527 312.5h2M777 312.5h1M220 313.5h1M294 313.5h1M525 313.5h2M775 313.5h2M242 314.5h1M524 314.5h1M774 314.5h1M791 314.5h1M773 315.5h1M792 315.5h1M292 316.5h1M771 316.5h2M793 316.5h1M288 317.5h4M769 317.5h2M284 318.5h4M766 318.5h3M764 319.5h2M795 319.5h1M762 320.5h2M796 320.5h1M761 321.5h1M759 322.5h2M757 323.5h2M756 324.5h1M755 325.5h1M196 326.5h1M754 326.5h1M194 327.5h2M753 327.5h1M800 327.5h1M192 328.5h2M752 328.5h1M190 329.5h2M751 329.5h1M187 330.5h3M750 330.5h1M183 331.5h4M749 331.5h1M125 332.5h4M137 332.5h3M180 332.5h3M748 332.5h1M129 333.5h8M179 333.5h1M177 336.5h1M908 336.5h3M176 337.5h1M274 337.5h1M745 337.5h1M907 337.5h1M911 337.5h4M175 338.5h1M906 338.5h1M915 338.5h2M905 339.5h1M917 339.5h2M253 340.5h1M272 340.5h1M743 340.5h1M904 340.5h1M919 340.5h2M173 341.5h1M254 341.5h1M903 341.5h1M921 341.5h1M171 342.5h2M255 342.5h1M902 342.5h1M922 342.5h2M167 343.5h4M901 343.5h1M924 343.5h9M163 344.5h4M933 344.5h1M161 345.5h2M257 345.5h1M268 345.5h2M740 345.5h1M159 346.5h2M258 346.5h1M265 346.5h3M155 347.5h4M259 347.5h1M262 347.5h3M935 347.5h1M151 348.5h4M260 348.5h2M936 348.5h1M149 349.5h2M937 349.5h1M736 352.5h1M939 352.5h1M732 359.5h1M731 360.5h1M730 361.5h1M729 362.5h1M728 363.5h1M727 364.5h1M726 365.5h1M725 366.5h1M724 367.5h1M723 368.5h1M722 369.5h1M52 370.5h1M721 370.5h1M51 371.5h1M720 371.5h1M50 372.5h1M719 372.5h1M49 373.5h1M718 373.5h1M717 374.5h1M716 375.5h1M47 376.5h1M46 377.5h1M45 378.5h1M664 379.5h1M712 382.5h1M668 386.5h1M669 387.5h1M670 388.5h1M671 389.5h1M707 389.5h2M703 390.5h4M700 391.5h3M673 392.5h1M699 392.5h1M674 393.5h1M675 394.5h1M676 395.5h2M697 395.5h1M678 396.5h2M696 396.5h1M680 397.5h2M695 397.5h1M682 398.5h2M684 399.5h3M687 400.5h4M693 400.5h1M691 401.5h2M1092 412.5h1M1090 413.5h2M1093 413.5h1M1089 414.5h1M1094 414.5h1M1087 415.5h2M1095 415.5h2M1085 416.5h2M1097 416.5h1M1084 417.5h1M1098 417.5h1M1082 418.5h2M1099 418.5h1M1081 419.5h1M1100 419.5h2M1079 420.5h2M1102 420.5h2M1077 421.5h2M1104 421.5h2M1076 422.5h1M1106 422.5h2M1108 423.5h1M1109 424.5h1M1074 425.5h1M1111 427.5h1M1072 428.5h1M1112 428.5h1M1070 431.5h1M1114 431.5h1M1115 432.5h1M838 437.5h1M839 438.5h1M841 441.5h1M852 441.5h8M842 442.5h1M850 442.5h2M848 443.5h2M846 444.5h2M968 444.5h1M844 445.5h2M972 451.5h1M974 454.5h1M976 457.5h1M978 460.5h1M1056 460.5h1M1051 467.5h2M1049 468.5h2M1046 469.5h3M1044 470.5h2M1042 473.5h1M1041 474.5h1M1039 477.5h1M1038 478.5h1M1036 481.5h1M1033 486.5h1M989 488.5h1M990 489.5h1M1031 489.5h1M991 490.5h2M993 491.5h1M994 492.5h1M995 493.5h1M996 494.5h2M1028 494.5h1M998 495.5h2M1027 495.5h1M1000 496.5h2M1025 496.5h2M1002 497.5h2M1024 497.5h1M1004 498.5h3M1023 498.5h1M1007 499.5h4M1021 499.5h2M1011 500.5h10" fill="none" stroke="#0000cd" stroke-width="1" class="ce"/>
<g class="ce"><rect x="886" y="319" width="334" height="4" fill="#ff3737"/><rect x="892" y="440" width="333" height="5" fill="#99cc00"/><rect x="894" y="546" width="340" height="5" fill="#3390e6"/></g>
<path d="M462 584.5h1M466 584.5h3M472 584.5h3M478 584.5h1M456 585.5h1M460 585.5h2M479 585.5h2M454 586.5h2M484 586.5h3M448 587.5h3M490 587.5h1M442 588.5h3M491 588.5h2M436 589.5h3M432 590.5h1M496 590.5h2M425 591.5h2M430 591.5h2M498 591.5h1M418 592.5h3M424 592.5h1M413 593.5h2M406 594.5h3M412 594.5h1M502 594.5h2M388 595.5h3M394 595.5h3M400 595.5h3M504 595.5h1M370 596.5h3M376 596.5h3M382 596.5h3M364 597.5h3M508 597.5h2M360 598.5h1M510 598.5h1M358 599.5h2M354 600.5h1M514 600.5h2M352 601.5h2M516 601.5h1M346 602.5h3M342 603.5h1M340 604.5h2M520 604.5h1M610 604.5h3M616 604.5h3M622 604.5h3M336 605.5h1M521 605.5h1M604 605.5h3M628 605.5h3M334 606.5h2M522 606.5h1M634 606.5h1M330 607.5h1M599 607.5h2M635 607.5h2M328 608.5h2M598 608.5h1M640 608.5h1M322 609.5h3M526 609.5h2M593 609.5h2M641 609.5h2M528 610.5h1M592 610.5h1M318 611.5h1M532 611.5h1M587 611.5h2M646 611.5h2M316 612.5h2M533 612.5h2M586 612.5h1M648 612.5h1M946 612.5h3M311 613.5h2M580 613.5h3M940 613.5h3M952 613.5h3M305 614.5h2M310 614.5h1M538 614.5h2M575 614.5h2M934 614.5h3M958 614.5h3M292 615.5h3M298 615.5h3M304 615.5h1M540 615.5h1M574 615.5h1M652 615.5h2M928 615.5h3M964 615.5h3M287 616.5h2M544 616.5h3M569 616.5h2M654 616.5h1M802 616.5h3M924 616.5h1M1115 616.5h2M281 617.5h2M286 617.5h1M550 617.5h3M556 617.5h3M562 617.5h3M568 617.5h1M796 617.5h3M808 617.5h3M814 617.5h3M820 617.5h1M922 617.5h2M970 617.5h1M1114 617.5h1M244 618.5h3M250 618.5h3M256 618.5h3M262 618.5h3M268 618.5h3M274 618.5h3M280 618.5h1M790 618.5h3M821 618.5h1M971 618.5h2M1108 618.5h3M233 619.5h2M238 619.5h3M658 619.5h2M785 619.5h2M822 619.5h1M917 619.5h2M976 619.5h1M1103 619.5h2M232 620.5h1M660 620.5h1M784 620.5h1M826 620.5h1M916 620.5h1M977 620.5h2M1102 620.5h1M226 621.5h3M780 621.5h1M827 621.5h2M912 621.5h1M1096 621.5h3M220 622.5h3M778 622.5h2M910 622.5h2M982 622.5h2M1092 622.5h1M214 623.5h3M664 623.5h2M832 623.5h2M984 623.5h1M1090 623.5h2M208 624.5h3M666 624.5h1M773 624.5h2M834 624.5h1M906 624.5h1M203 625.5h2M772 625.5h1M838 625.5h1M904 625.5h2M988 625.5h2M1086 625.5h1M202 626.5h1M767 626.5h2M839 626.5h2M990 626.5h1M1084 626.5h2M197 627.5h2M670 627.5h2M766 627.5h1M844 627.5h1M900 627.5h1M196 628.5h1M672 628.5h1M762 628.5h1M845 628.5h2M898 628.5h2M994 628.5h2M1079 628.5h2M192 629.5h1M760 629.5h2M850 629.5h1M996 629.5h1M1078 629.5h1M190 630.5h2M851 630.5h2M893 630.5h2M1074 630.5h1M185 631.5h2M676 631.5h2M755 631.5h2M856 631.5h1M892 631.5h1M1000 631.5h2M1072 631.5h2M136 632.5h3M142 632.5h3M148 632.5h3M154 632.5h3M160 632.5h3M166 632.5h3M172 632.5h3M178 632.5h3M184 632.5h1M678 632.5h1M754 632.5h1M857 632.5h2M886 632.5h3M1002 632.5h1M130 633.5h3M682 633.5h1M749 633.5h2M862 633.5h3M881 633.5h2M1006 633.5h1M1066 633.5h3M124 634.5h3M683 634.5h2M748 634.5h1M868 634.5h3M874 634.5h3M880 634.5h1M1007 634.5h2M1062 634.5h1M118 635.5h3M744 635.5h1M1012 635.5h1M1060 635.5h2M688 636.5h2M742 636.5h2M1013 636.5h2M114 637.5h1M690 637.5h1M1054 637.5h3M112 638.5h2M694 638.5h1M737 638.5h2M1018 638.5h2M1048 638.5h3M695 639.5h2M736 639.5h1M1020 639.5h1M1042 639.5h3M108 640.5h1M700 640.5h1M730 640.5h3M1024 640.5h3M1030 640.5h3M1036 640.5h3M106 641.5h2M701 641.5h2M724 641.5h3M706 642.5h3M712 642.5h3M718 642.5h3M102 643.5h1M100 644.5h2M96 646.5h1M94 647.5h2M90 650.5h1M88 651.5h2M83 653.5h2M82 654.5h1M76 656.5h3M70 657.5h3M66 658.5h1M64 659.5h2M17 660.5h2M22 660.5h3M28 660.5h3M34 660.5h3M40 660.5h3M46 660.5h3M52 660.5h3M58 660.5h3M11 661.5h2M16 661.5h1M10 662.5h1M4 663.5h3" fill="none" stroke="#ff0000" stroke-width="1" class="ce"/>
<path d="M16.5 763v2M21.5 766v2M22.5 764v2M23.5 762v2M25.5 759v2M26.5 757v2M27.5 755v2M45.5 750v2M46.5 748v2M48.5 745v2M50.5 742v2M51.5 740v2M70.5 737v2M74.5 742v2M96.5 745v2M126.5 750v2M130.5 745v2M142.5 742v2M146.5 747v2M278.5 735v2M282.5 730v2M285.5 729v2M286.5 731v2M288.5 734v2M290.5 737v2M291.5 739v2M364.5 731v2M365.5 733v2M366.5 735v3M367.5 738v2M368.5 740v3M369.5 743v2M370.5 745v3M371.5 748v2M372.5 750v2M374.5 748v2M378.5 743v2M416.5 729v2M518.5 747v2M522.5 752v2M525.5 753v2M526.5 751v2M527.5 749v2M528.5 747v2M529.5 745v2M530.5 743v2M531.5 741v2M645.5 759v2M648.5 755v2M651.5 751v2M656.5 754v2M784.5 742v2M804.5 751v2M805.5 753v2M806.5 755v2M807.5 757v2M808.5 759v2M809.5 761v2M810.5 763v2M811.5 765v2M814.5 764v2M818.5 759v2M893.5 733v2M896.5 729v2M899.5 725v2M901.5 725v2M904.5 729v2M907.5 733v2M909.5 736v2M911.5 739v2M913.5 742v2M915.5 745v2M992.5 753v2M1024.5 748v2M1093.5 738v2M1094.5 740v2M1095.5 742v2M1097.5 745v2M1098.5 747v2M1099.5 749v2M900 724.5h1M420 725.5h1M419 726.5h1M421 726.5h2M418 727.5h1M423 727.5h2M898 727.5h1M902 727.5h1M284 728.5h1M417 728.5h1M425 728.5h1M897 728.5h1M903 728.5h1M283 729.5h1M426 729.5h2M428 730.5h1M564 730.5h1M355 731.5h9M404 731.5h2M415 731.5h1M429 731.5h1M563 731.5h1M565 731.5h2M895 731.5h1M905 731.5h1M281 732.5h1M353 732.5h2M403 732.5h1M406 732.5h3M414 732.5h1M430 732.5h1M562 732.5h1M567 732.5h1M894 732.5h1M906 732.5h1M280 733.5h1M287 733.5h1M339 733.5h6M350 733.5h3M402 733.5h1M409 733.5h2M413 733.5h1M431 733.5h2M561 733.5h1M568 733.5h1M748 733.5h2M196 734.5h2M279 734.5h1M335 734.5h4M345 734.5h5M401 734.5h1M411 734.5h2M433 734.5h1M559 734.5h2M569 734.5h2M747 734.5h1M750 734.5h3M1073 734.5h4M68 735.5h1M195 735.5h1M198 735.5h2M332 735.5h3M400 735.5h1M434 735.5h1M558 735.5h1M571 735.5h1M577 735.5h8M745 735.5h2M753 735.5h2M891 735.5h2M908 735.5h1M1065 735.5h8M1077 735.5h2M66 736.5h2M69 736.5h1M193 736.5h2M200 736.5h2M289 736.5h1M315 736.5h2M331 736.5h1M399 736.5h1M435 736.5h1M449 736.5h4M557 736.5h1M572 736.5h5M585 736.5h5M744 736.5h1M755 736.5h6M889 736.5h2M1060 736.5h5M1079 736.5h2M64 737.5h2M192 737.5h1M202 737.5h2M277 737.5h1M311 737.5h4M317 737.5h1M330 737.5h1M398 737.5h1M436 737.5h13M453 737.5h1M553 737.5h4M590 737.5h3M743 737.5h1M761 737.5h5M886 737.5h3M1059 737.5h1M1081 737.5h1M1091 737.5h2M62 738.5h2M191 738.5h1M204 738.5h1M273 738.5h4M307 738.5h4M318 738.5h1M329 738.5h1M397 738.5h1M454 738.5h1M547 738.5h6M593 738.5h2M741 738.5h2M766 738.5h2M779 738.5h2M883 738.5h3M910 738.5h1M1058 738.5h1M1082 738.5h2M1087 738.5h4M52 739.5h10M71 739.5h1M189 739.5h2M205 739.5h2M268 739.5h5M305 739.5h2M319 739.5h2M328 739.5h1M393 739.5h4M455 739.5h2M543 739.5h4M595 739.5h3M740 739.5h1M768 739.5h2M777 739.5h2M781 739.5h1M881 739.5h2M1057 739.5h1M1084 739.5h3M72 740.5h1M139 740.5h2M187 740.5h2M207 740.5h2M266 740.5h2M302 740.5h3M321 740.5h1M327 740.5h1M385 740.5h8M457 740.5h1M532 740.5h11M598 740.5h2M738 740.5h2M770 740.5h2M774 740.5h3M782 740.5h1M852 740.5h2M878 740.5h3M1043 740.5h3M1055 740.5h2M73 741.5h1M91 741.5h2M137 741.5h2M141 741.5h1M185 741.5h2M209 741.5h1M228 741.5h5M264 741.5h2M292 741.5h10M322 741.5h1M326 741.5h1M380 741.5h5M458 741.5h1M600 741.5h2M736 741.5h2M772 741.5h2M783 741.5h1M851 741.5h1M854 741.5h2M867 741.5h11M912 741.5h1M1039 741.5h4M1046 741.5h3M1054 741.5h1M87 742.5h4M93 742.5h1M134 742.5h3M182 742.5h3M210 742.5h2M227 742.5h1M233 742.5h4M262 742.5h2M323 742.5h1M325 742.5h1M379 742.5h1M459 742.5h1M602 742.5h2M734 742.5h2M850 742.5h1M856 742.5h2M865 742.5h2M1035 742.5h4M1049 742.5h2M1053 742.5h1M83 743.5h4M94 743.5h1M132 743.5h2M163 743.5h4M179 743.5h3M212 743.5h1M226 743.5h1M237 743.5h1M260 743.5h2M324 743.5h1M460 743.5h3M604 743.5h1M707 743.5h4M731 743.5h3M849 743.5h1M858 743.5h2M862 743.5h3M932 743.5h1M1031 743.5h4M1051 743.5h2M49 744.5h1M75 744.5h1M79 744.5h4M95 744.5h1M131 744.5h1M143 744.5h1M159 744.5h4M167 744.5h4M175 744.5h4M213 744.5h2M225 744.5h1M238 744.5h1M259 744.5h1M463 744.5h4M605 744.5h1M703 744.5h4M711 744.5h4M727 744.5h4M785 744.5h1M847 744.5h2M860 744.5h2M914 744.5h1M930 744.5h2M933 744.5h2M1028 744.5h3M1096 744.5h1M76 745.5h3M144 745.5h1M156 745.5h3M171 745.5h4M215 745.5h2M223 745.5h2M239 745.5h1M258 745.5h1M377 745.5h1M467 745.5h6M516 745.5h1M606 745.5h1M700 745.5h3M715 745.5h12M786 745.5h1M846 745.5h1M928 745.5h2M935 745.5h1M1027 745.5h1M145 746.5h1M154 746.5h2M217 746.5h1M222 746.5h1M240 746.5h1M257 746.5h1M376 746.5h1M473 746.5h5M514 746.5h2M517 746.5h1M607 746.5h2M698 746.5h2M787 746.5h1M845 746.5h1M926 746.5h2M936 746.5h1M1026 746.5h1M47 747.5h1M97 747.5h1M129 747.5h1M153 747.5h1M218 747.5h2M221 747.5h1M241 747.5h1M255 747.5h2M375 747.5h1M478 747.5h3M512 747.5h2M609 747.5h1M697 747.5h1M788 747.5h1M844 747.5h1M916 747.5h10M937 747.5h2M1025 747.5h1M98 748.5h1M128 748.5h1M151 748.5h2M220 748.5h1M242 748.5h1M254 748.5h1M481 748.5h2M510 748.5h2M610 748.5h1M695 748.5h2M789 748.5h2M843 748.5h1M939 748.5h1M1107 748.5h10M99 749.5h1M105 749.5h13M127 749.5h1M147 749.5h1M149 749.5h2M243 749.5h1M253 749.5h1M483 749.5h27M519 749.5h1M611 749.5h1M693 749.5h2M791 749.5h2M841 749.5h2M940 749.5h2M996 749.5h2M1105 749.5h2M100 750.5h5M118 750.5h2M148 750.5h1M244 750.5h9M373 750.5h1M520 750.5h1M612 750.5h2M652 750.5h1M691 750.5h2M793 750.5h1M840 750.5h1M942 750.5h3M995 750.5h1M998 750.5h3M1023 750.5h1M1102 750.5h3M120 751.5h2M521 751.5h1M614 751.5h2M653 751.5h1M689 751.5h2M794 751.5h2M801 751.5h3M839 751.5h1M945 751.5h2M994 751.5h1M1001 751.5h2M1022 751.5h1M1100 751.5h2M43 752.5h2M122 752.5h2M125 752.5h1M616 752.5h2M654 752.5h1M686 752.5h3M796 752.5h5M837 752.5h2M947 752.5h3M993 752.5h1M1003 752.5h6M1021 752.5h1M39 753.5h4M124 753.5h1M618 753.5h2M650 753.5h1M655 753.5h1M668 753.5h18M836 753.5h1M950 753.5h3M1009 753.5h12M28 754.5h11M523 754.5h1M620 754.5h3M649 754.5h1M667 754.5h1M835 754.5h1M953 754.5h2M524 755.5h1M623 755.5h4M665 755.5h2M833 755.5h2M955 755.5h4M971 755.5h3M991 755.5h1M627 756.5h10M657 756.5h1M664 756.5h1M832 756.5h1M959 756.5h4M967 756.5h4M974 756.5h3M990 756.5h1M637 757.5h2M647 757.5h1M658 757.5h1M663 757.5h1M820 757.5h3M831 757.5h1M963 757.5h4M977 757.5h2M989 757.5h1M4 758.5h5M639 758.5h2M646 758.5h1M659 758.5h1M661 758.5h2M819 758.5h1M823 758.5h4M829 758.5h2M979 758.5h10M9 759.5h4M641 759.5h1M660 759.5h1M827 759.5h2M13 760.5h1M642 760.5h2M14 761.5h1M24 761.5h1M644 761.5h1M817 761.5h1M15 762.5h1M816 762.5h1M815 763.5h1M17 765.5h1M18 766.5h1M813 766.5h1M19 767.5h1M812 767.5h1M20 768.5h1" fill="none" stroke="#1e90ff" stroke-width="1" class="ce"/>
<g class="ce"><rect x="3" y="28" width="1" height="779" fill="#000"/></g>
<g class="ce"><rect x="7" y="48" width="52" height="25" fill="url(#gb)"/><rect x="7" y="72" width="109" height="40" fill="url(#gp)"/><rect x="174" y="48" width="52" height="25" fill="url(#gb)"/><rect x="118" y="72" width="108" height="40" fill="url(#gp)"/><rect x="11" y="71" width="44" height="1" fill="#1a1ab0"/><rect x="178" y="71" width="44" height="1" fill="#1a1ab0"/><rect x="11" y="72" width="44" height="1" fill="#9494ff"/><rect x="178" y="72" width="44" height="1" fill="#9494ff"/><rect x="7" y="48" width="52" height="1" fill="rgba(0,0,110,0.4)"/><rect x="7" y="49" width="1" height="63" fill="rgba(0,0,110,0.4)"/><rect x="8" y="111" width="108" height="1" fill="rgba(0,0,110,0.4)"/><rect x="115" y="72" width="1" height="39" fill="rgba(0,0,110,0.4)"/><rect x="58" y="49" width="1" height="23" fill="rgba(0,0,110,0.4)"/><rect x="59" y="72" width="56" height="1" fill="rgba(0,0,110,0.4)"/><rect x="174" y="48" width="52" height="1" fill="rgba(0,0,110,0.4)"/><rect x="225" y="49" width="1" height="63" fill="rgba(0,0,110,0.4)"/><rect x="118" y="111" width="107" height="1" fill="rgba(0,0,110,0.4)"/><rect x="118" y="72" width="1" height="39" fill="rgba(0,0,110,0.4)"/><rect x="174" y="49" width="1" height="23" fill="rgba(0,0,110,0.4)"/><rect x="119" y="72" width="55" height="1" fill="rgba(0,0,110,0.4)"/><rect x="61" y="48" width="111" height="22" fill="#abadb3"/><rect x="62" y="49" width="109" height="20" fill="#fff"/><rect x="63" y="50" width="19" height="18" fill="url(#gs)"/><rect x="151" y="50" width="19" height="18" fill="url(#gs)"/><rect x="82" y="49" width="1" height="20" fill="#c8c8c8"/><rect x="150" y="49" width="1" height="20" fill="#c8c8c8"/></g><polygon points="69,57 74,57 71.5,60.2" fill="#5a6ec8"/><polygon points="158,60.2 163,60.2 160.5,57" fill="#5a6ec8"/><polygon points="6.6,39 14.4,39 10.5,35" fill="#000"/>
<text x="19.4" y="40" class="t9" textLength="66.4" lengthAdjust="spacingAndGlyphs">EURUSD-,Daily</text><text x="92.4" y="40" class="t9" textLength="140.4" lengthAdjust="spacingAndGlyphs">1.12435 1.12446 1.12422 1.12426</text><text x="19.6" y="63.8" class="" textLength="25.4" lengthAdjust="spacingAndGlyphs" style="font-size:12px;fill:#fff">SELL</text><text x="187.6" y="63.8" class="" textLength="23.4" lengthAdjust="spacingAndGlyphs" style="font-size:12px;fill:#fff">BUY</text><text x="123.8" y="62.8" class="" textLength="22.8" lengthAdjust="spacingAndGlyphs" style="font-size:12.3px">1.00</text><text x="27.5" y="103" class="" style="font-size:12px;font-weight:bold;fill:#fff">1.12</text><text x="137.5" y="103" class="" style="font-size:12px;font-weight:bold;fill:#fff">1.12</text><text x="53.6" y="103.2" class="" textLength="35" lengthAdjust="spacingAndGlyphs" style="font-size:34.3px;fill:#fff">42</text><text x="164.4" y="103.2" class="" textLength="35.4" lengthAdjust="spacingAndGlyphs" style="font-size:34.3px;fill:#fff">44</text><text x="94.3" y="87" class="" textLength="6.8" lengthAdjust="spacingAndGlyphs" style="font-size:12.6px;font-weight:bold;fill:#fff">6</text><text x="205.3" y="87" class="" textLength="6.8" lengthAdjust="spacingAndGlyphs" style="font-size:12.6px;font-weight:bold;fill:#fff">5</text><text x="6.7" y="16" class="" textLength="12.4" lengthAdjust="spacingAndGlyphs" style="font-size:10px;fill:#444;text-rendering:geometricPrecision">H4</text><text x="35.6" y="16" class="" textLength="11.6" lengthAdjust="spacingAndGlyphs" style="font-size:10px;fill:#444;text-rendering:geometricPrecision">D1</text><text x="62.4" y="16" class="" textLength="15.4" lengthAdjust="spacingAndGlyphs" style="font-size:10px;fill:#444;text-rendering:geometricPrecision">W1</text><text x="89.4" y="16" class="" textLength="15.2" lengthAdjust="spacingAndGlyphs" style="font-size:10px;fill:#444;text-rendering:geometricPrecision">MN</text><text x="8.2" y="583" class="t9" textLength="153.3" lengthAdjust="spacingAndGlyphs">MACD(12,26,9) -0.000688 -0.000612</text><text x="8.2" y="689" class="t9" textLength="67.8" lengthAdjust="spacingAndGlyphs">RSI(14) 45.0732</text><text x="1425.5" y="41" class="ax" textLength="32.3" lengthAdjust="spacingAndGlyphs">1.15830</text><text x="1425.5" y="74" class="ax" textLength="32.3" lengthAdjust="spacingAndGlyphs">1.15570</text><text x="1425.5" y="107" class="ax" textLength="32.3" lengthAdjust="spacingAndGlyphs">1.15310</text><text x="1425.5" y="140" class="ax" textLength="32.3" lengthAdjust="spacingAndGlyphs">1.15050</text><text x="1425.5" y="173" class="ax" textLength="32.3" lengthAdjust="spacingAndGlyphs">1.14790</text><text x="1425.5" y="206" class="ax" textLength="32.3" lengthAdjust="spacingAndGlyphs">1.14530</text><text x="1425.5" y="239" class="ax" textLength="32.3" lengthAdjust="spacingAndGlyphs">1.14270</text><text x="1425.5" y="272" class="ax" textLength="32.3" lengthAdjust="spacingAndGlyphs">1.14010</text><text x="1425.5" y="305" class="ax" textLength="32.3" lengthAdjust="spacingAndGlyphs">1.13750</text><text x="1425.5" y="338" class="ax" textLength="32.3" lengthAdjust="spacingAndGlyphs">1.13490</text><text x="1425.5" y="371" class="ax" textLength="32.3" lengthAdjust="spacingAndGlyphs">1.13230</text><text x="1425.5" y="404" class="ax" textLength="32.3" lengthAdjust="spacingAndGlyphs">1.12970</text><text x="1425.5" y="437" class="ax" textLength="32.3" lengthAdjust="spacingAndGlyphs">1.12710</text><text x="1425.5" y="503" class="ax" textLength="32.3" lengthAdjust="spacingAndGlyphs">1.12190</text><text x="1425.5" y="536" class="ax" textLength="32.3" lengthAdjust="spacingAndGlyphs">1.11930</text><text x="1425.5" y="569" class="ax" textLength="32.3" lengthAdjust="spacingAndGlyphs">1.11670</text><rect class="ce" x="1421" y="464" width="40" height="11" fill="#000"/><text x="1425.5" y="473" class="ax" textLength="32.3" lengthAdjust="spacingAndGlyphs" style="fill:#fff;stroke:#fff">1.12426</text><text x="1423" y="581" class="ax" textLength="39" lengthAdjust="spacingAndGlyphs">0.003386</text><text x="1423.3" y="613" class="ax" textLength="17.2" lengthAdjust="spacingAndGlyphs">0.00</text><text x="1423" y="671" class="ax" textLength="36" lengthAdjust="spacingAndGlyphs">-0.00574</text><text x="1423.4" y="687" class="ax" textLength="14.6" lengthAdjust="spacingAndGlyphs">100</text><text x="1422.2" y="720" class="ax" textLength="9.6" lengthAdjust="spacingAndGlyphs">70</text><text x="1422.2" y="771" class="ax" textLength="9.6" lengthAdjust="spacingAndGlyphs">30</text><text x="1423.3" y="803" class="ax" textLength="4.8" lengthAdjust="spacingAndGlyphs">0</text><text x="3" y="819" class="t9" textLength="49" lengthAdjust="spacingAndGlyphs">9 Nov 2018</text><text x="67.4" y="819" class="t9" textLength="53.2" lengthAdjust="spacingAndGlyphs">19 Nov 2018</text><text x="131.5" y="819" class="t9" textLength="53.2" lengthAdjust="spacingAndGlyphs">28 Nov 2018</text><text x="195.6" y="819" class="t9" textLength="46" lengthAdjust="spacingAndGlyphs">7 Dec 2018</text><text x="259.7" y="819" class="t9" textLength="50.7" lengthAdjust="spacingAndGlyphs">17 Dec 2018</text><text x="323.5" y="819" class="t9" textLength="50.7" lengthAdjust="spacingAndGlyphs">26 Dec 2018</text><text x="387" y="819" class="t9" textLength="45" lengthAdjust="spacingAndGlyphs">4 Jan 2019</text><text x="451.7" y="819" class="t9" textLength="49" lengthAdjust="spacingAndGlyphs">14 Jan 2019</text><text x="515.2" y="819" class="t9" textLength="49.7" lengthAdjust="spacingAndGlyphs">23 Jan 2019</text><text x="579.8" y="819" class="t9" textLength="46.2" lengthAdjust="spacingAndGlyphs">1 Feb 2019</text><text x="644" y="819" class="t9" textLength="50.3" lengthAdjust="spacingAndGlyphs">11 Feb 2019</text><text x="707" y="819" class="t9" textLength="52" lengthAdjust="spacingAndGlyphs">20 Feb 2019</text><text x="771.8" y="819" class="t9" textLength="46.3" lengthAdjust="spacingAndGlyphs">1 Mar 2019</text><text x="835.5" y="819" class="t9" textLength="51.3" lengthAdjust="spacingAndGlyphs">11 Mar 2019</text><text x="899.3" y="819" class="t9" textLength="51.7" lengthAdjust="spacingAndGlyphs">20 Mar 2019</text><text x="963.5" y="819" class="t9" textLength="51.5" lengthAdjust="spacingAndGlyphs">29 Mar 2019</text><text x="1027.5" y="819" class="t9" textLength="45.6" lengthAdjust="spacingAndGlyphs">8 Apr 2019</text><text x="1092" y="819" class="t9" textLength="49.8" lengthAdjust="spacingAndGlyphs">17 Apr 2019</text><text x="16.4" y="843.5" class="" textLength="84.6" lengthAdjust="spacingAndGlyphs" style="font-size:12.4px">EURUSD-,Daily</text><text x="123.3" y="843.5" class="" textLength="87" lengthAdjust="spacingAndGlyphs" style="font-size:12.4px;fill:#6e6e6e">AUDUSD-,Daily</text><text x="232.4" y="843.5" class="" textLength="97.6" lengthAdjust="spacingAndGlyphs" style="font-size:12.4px;fill:#6e6e6e">USDCHF-,Weekly</text><text x="352.6" y="843.5" class="" textLength="85.5" lengthAdjust="spacingAndGlyphs" style="font-size:12.4px;fill:#6e6e6e">USDCAD-,Daily</text><text x="461.7" y="843.5" class="" textLength="87.3" lengthAdjust="spacingAndGlyphs" style="font-size:12.4px;fill:#6e6e6e">USDCNH-,Daily</text><polygon points="1438.5,834.5 1438.5,841.5 1435,838" fill="#a0a0a0"/><polygon points="1453.5,834.5 1453.5,841.5 1457,838" fill="#a0a0a0"/>
</svg>
</body></html>
